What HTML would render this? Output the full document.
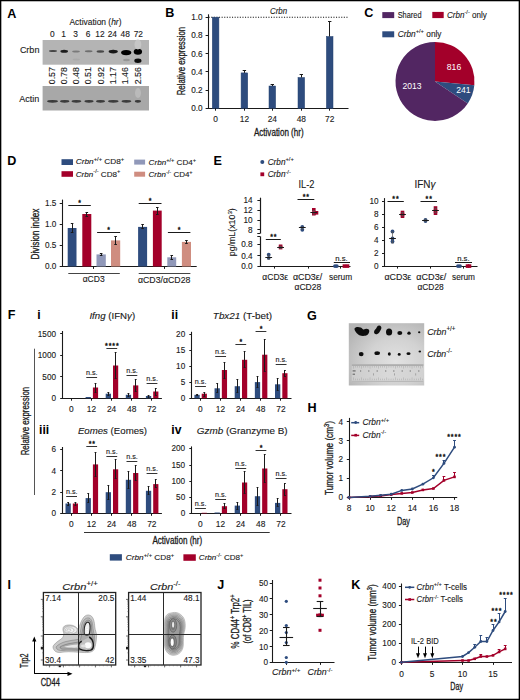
<!DOCTYPE html>
<html><head><meta charset="utf-8"><style>
html,body{margin:0;padding:0;background:#fff;}
#fig{position:relative;width:520px;height:700px;overflow:hidden;background:#fff;}
svg{position:absolute;left:0;top:0;}
text{font-family:"Liberation Sans", sans-serif;}
</style></head><body><div id="fig">
<svg width="520" height="700" viewBox="0 0 520 700" font-family='"Liberation Sans", sans-serif'>
<rect x="0" y="0" width="520" height="700" fill="#fff"/>
<text x="7.30" y="17.60" font-size="12.6" font-weight="bold" fill="#000">A</text>
<text x="95.50" y="25.00" font-size="9.3" text-anchor="middle" fill="#1a1a1a" stroke="#1a1a1a" stroke-width="0.12" textLength="52.00" lengthAdjust="spacingAndGlyphs">Activation (<tspan font-style="italic">hr</tspan>)</text>
<text x="52.30" y="36.60" font-size="8.4" text-anchor="middle" fill="#1a1a1a" stroke="#1a1a1a" stroke-width="0.12">0</text>
<text x="63.50" y="36.60" font-size="8.4" text-anchor="middle" fill="#1a1a1a" stroke="#1a1a1a" stroke-width="0.12">1</text>
<text x="75.50" y="36.60" font-size="8.4" text-anchor="middle" fill="#1a1a1a" stroke="#1a1a1a" stroke-width="0.12">3</text>
<text x="88.00" y="36.60" font-size="8.4" text-anchor="middle" fill="#1a1a1a" stroke="#1a1a1a" stroke-width="0.12">6</text>
<text x="100.00" y="36.60" font-size="8.4" text-anchor="middle" fill="#1a1a1a" stroke="#1a1a1a" stroke-width="0.12">12</text>
<text x="112.30" y="36.60" font-size="8.4" text-anchor="middle" fill="#1a1a1a" stroke="#1a1a1a" stroke-width="0.12">24</text>
<text x="125.20" y="36.60" font-size="8.4" text-anchor="middle" fill="#1a1a1a" stroke="#1a1a1a" stroke-width="0.12">48</text>
<text x="138.30" y="36.60" font-size="8.4" text-anchor="middle" fill="#1a1a1a" stroke="#1a1a1a" stroke-width="0.12">72</text>
<text x="39.40" y="52.90" font-size="9" text-anchor="end" fill="#1a1a1a" stroke="#1a1a1a" stroke-width="0.12">Crbn</text>
<text x="39.20" y="102.00" font-size="9" text-anchor="end" fill="#1a1a1a" stroke="#1a1a1a" stroke-width="0.12">Actin</text>
<defs><filter id="bl" x="-50%" y="-50%" width="200%" height="200%"><feGaussianBlur stdDeviation="0.7"/></filter><filter id="bl2" x="-50%" y="-50%" width="200%" height="200%"><feGaussianBlur stdDeviation="1.2"/></filter></defs>
<rect x="42.60" y="40.00" width="106.40" height="24.70" fill="#b4b4b4"/>
<rect x="42.60" y="86.00" width="106.40" height="24.50" fill="#a8a8a8"/>
<g filter="url(#bl)"><ellipse cx="53" cy="51" rx="4" ry="1.0" fill="#444"/><ellipse cx="64.2" cy="51.2" rx="3.8" ry="1.5" fill="#1e1e1e"/><ellipse cx="76" cy="51.6" rx="3.8" ry="1.0" fill="#7a7a7a"/><ellipse cx="88.7" cy="51.2" rx="3.8" ry="1.0" fill="#6e6e6e"/><ellipse cx="100.4" cy="51.5" rx="3.8" ry="1.2" fill="#4a4a4a"/><ellipse cx="113.2" cy="51.6" rx="4.6" ry="1.8" fill="#151515"/><ellipse cx="126.2" cy="52.6" rx="5.1" ry="2.6" fill="#050505"/><ellipse cx="137.9" cy="51.8" rx="4.2" ry="3.0" fill="#050505"/><ellipse cx="126.5" cy="60" rx="3.4" ry="1.2" fill="#959595"/><ellipse cx="137.9" cy="60.8" rx="3.6" ry="2.2" fill="#111"/><ellipse cx="137.9" cy="44.5" rx="3.4" ry="5" fill="#c6c6c6"/><ellipse cx="76.3" cy="59.5" rx="3.6" ry="1.1" fill="#aaaaaa"/><ellipse cx="52.5" cy="101.3" rx="5.5" ry="1.35" fill="#3a3a3a"/><ellipse cx="64.7" cy="101.3" rx="4.7" ry="1.35" fill="#3a3a3a"/><ellipse cx="76.4" cy="101.3" rx="4.9" ry="1.35" fill="#3a3a3a"/><ellipse cx="89" cy="101.3" rx="4.6" ry="1.35" fill="#3a3a3a"/><ellipse cx="100.5" cy="101.3" rx="4.5" ry="1.35" fill="#3a3a3a"/><ellipse cx="113.3" cy="101.3" rx="5.3" ry="1.35" fill="#3a3a3a"/><ellipse cx="126.4" cy="101.3" rx="4.9" ry="1.35" fill="#3a3a3a"/><ellipse cx="137.9" cy="101.3" rx="3.1" ry="1.35" fill="#3a3a3a"/><ellipse cx="138" cy="93" rx="3" ry="5" fill="#bababa"/></g>
<text x="55.20" y="84.20" font-size="8.2" fill="#1a1a1a" stroke="#1a1a1a" stroke-width="0.12" textLength="17.00" lengthAdjust="spacingAndGlyphs" transform="rotate(-90 55.20 84.20)">0.57</text>
<text x="67.00" y="84.20" font-size="8.2" fill="#1a1a1a" stroke="#1a1a1a" stroke-width="0.12" textLength="17.00" lengthAdjust="spacingAndGlyphs" transform="rotate(-90 67.00 84.20)">0.78</text>
<text x="79.10" y="84.20" font-size="8.2" fill="#1a1a1a" stroke="#1a1a1a" stroke-width="0.12" textLength="17.00" lengthAdjust="spacingAndGlyphs" transform="rotate(-90 79.10 84.20)">0.48</text>
<text x="91.30" y="84.20" font-size="8.2" fill="#1a1a1a" stroke="#1a1a1a" stroke-width="0.12" textLength="17.00" lengthAdjust="spacingAndGlyphs" transform="rotate(-90 91.30 84.20)">0.51</text>
<text x="103.90" y="84.20" font-size="8.2" fill="#1a1a1a" stroke="#1a1a1a" stroke-width="0.12" textLength="17.00" lengthAdjust="spacingAndGlyphs" transform="rotate(-90 103.90 84.20)">0.92</text>
<text x="116.20" y="84.20" font-size="8.2" fill="#1a1a1a" stroke="#1a1a1a" stroke-width="0.12" textLength="17.00" lengthAdjust="spacingAndGlyphs" transform="rotate(-90 116.20 84.20)">1.17</text>
<text x="128.40" y="84.20" font-size="8.2" fill="#1a1a1a" stroke="#1a1a1a" stroke-width="0.12" textLength="17.00" lengthAdjust="spacingAndGlyphs" transform="rotate(-90 128.40 84.20)">1.46</text>
<text x="140.70" y="84.20" font-size="8.2" fill="#1a1a1a" stroke="#1a1a1a" stroke-width="0.12" textLength="17.00" lengthAdjust="spacingAndGlyphs" transform="rotate(-90 140.70 84.20)">2.56</text>
<text x="165.30" y="17.20" font-size="12.6" font-weight="bold" fill="#000">B</text>
<line x1="208.50" y1="14.30" x2="208.50" y2="108.90" stroke="#1a1a1a" stroke-width="1.1"/>
<line x1="205.60" y1="108.50" x2="208.60" y2="108.50" stroke="#1a1a1a" stroke-width="1"/>
<text x="202.60" y="111.30" font-size="8.2" text-anchor="end" fill="#1a1a1a" stroke="#1a1a1a" stroke-width="0.12">0.0</text>
<line x1="205.60" y1="90.50" x2="208.60" y2="90.50" stroke="#1a1a1a" stroke-width="1"/>
<text x="202.60" y="93.06" font-size="8.2" text-anchor="end" fill="#1a1a1a" stroke="#1a1a1a" stroke-width="0.12">0.2</text>
<line x1="205.60" y1="71.50" x2="208.60" y2="71.50" stroke="#1a1a1a" stroke-width="1"/>
<text x="202.60" y="74.82" font-size="8.2" text-anchor="end" fill="#1a1a1a" stroke="#1a1a1a" stroke-width="0.12">0.4</text>
<line x1="205.60" y1="53.50" x2="208.60" y2="53.50" stroke="#1a1a1a" stroke-width="1"/>
<text x="202.60" y="56.58" font-size="8.2" text-anchor="end" fill="#1a1a1a" stroke="#1a1a1a" stroke-width="0.12">0.6</text>
<line x1="205.60" y1="35.50" x2="208.60" y2="35.50" stroke="#1a1a1a" stroke-width="1"/>
<text x="202.60" y="38.34" font-size="8.2" text-anchor="end" fill="#1a1a1a" stroke="#1a1a1a" stroke-width="0.12">0.8</text>
<line x1="205.60" y1="17.50" x2="208.60" y2="17.50" stroke="#1a1a1a" stroke-width="1"/>
<text x="202.60" y="20.10" font-size="8.2" text-anchor="end" fill="#1a1a1a" stroke="#1a1a1a" stroke-width="0.12">1.0</text>
<text x="184.60" y="61.10" font-size="10" text-anchor="middle" fill="#1a1a1a" stroke="#1a1a1a" stroke-width="0.3" textLength="68.50" lengthAdjust="spacingAndGlyphs" transform="rotate(-90 184.60 61.10)">Relative expression</text>
<line x1="208.10" y1="108.50" x2="348.50" y2="108.50" stroke="#1a1a1a" stroke-width="1.1"/>
<line x1="208.6" y1="17.2" x2="348.5" y2="17.2" stroke="#111" stroke-width="1.1" stroke-dasharray="1.1 1.5"/>
<text x="270.00" y="13.50" font-size="8.2" font-style="italic" fill="#1a1a1a" stroke="#1a1a1a" stroke-width="0.12" textLength="17.00" lengthAdjust="spacingAndGlyphs">Crbn</text>
<rect x="212.30" y="17.20" width="6.60" height="91.20" fill="#2e4c7e" stroke="#22406f" stroke-width="0.5"/>
<line x1="215.50" y1="108.40" x2="215.50" y2="110.70" stroke="#1a1a1a" stroke-width="1"/>
<text x="215.60" y="121.50" font-size="8.4" text-anchor="middle" fill="#1a1a1a" stroke="#1a1a1a" stroke-width="0.12">0</text>
<rect x="241.10" y="72.90" width="6.60" height="35.50" fill="#2e4c7e" stroke="#22406f" stroke-width="0.5"/>
<line x1="244.50" y1="70.00" x2="244.50" y2="72.90" stroke="#1a1a1a" stroke-width="1"/>
<line x1="242.70" y1="70.50" x2="246.10" y2="70.50" stroke="#1a1a1a" stroke-width="1"/>
<line x1="244.50" y1="108.40" x2="244.50" y2="110.70" stroke="#1a1a1a" stroke-width="1"/>
<text x="244.40" y="121.50" font-size="8.4" text-anchor="middle" fill="#1a1a1a" stroke="#1a1a1a" stroke-width="0.12">12</text>
<rect x="269.00" y="86.00" width="6.60" height="22.40" fill="#2e4c7e" stroke="#22406f" stroke-width="0.5"/>
<line x1="272.50" y1="84.80" x2="272.50" y2="86.00" stroke="#1a1a1a" stroke-width="1"/>
<line x1="270.60" y1="84.50" x2="274.00" y2="84.50" stroke="#1a1a1a" stroke-width="1"/>
<line x1="272.50" y1="108.40" x2="272.50" y2="110.70" stroke="#1a1a1a" stroke-width="1"/>
<text x="272.30" y="121.50" font-size="8.4" text-anchor="middle" fill="#1a1a1a" stroke="#1a1a1a" stroke-width="0.12">24</text>
<rect x="298.00" y="77.50" width="6.60" height="30.90" fill="#2e4c7e" stroke="#22406f" stroke-width="0.5"/>
<line x1="301.50" y1="74.90" x2="301.50" y2="77.50" stroke="#1a1a1a" stroke-width="1"/>
<line x1="299.60" y1="74.50" x2="303.00" y2="74.50" stroke="#1a1a1a" stroke-width="1"/>
<line x1="301.50" y1="108.40" x2="301.50" y2="110.70" stroke="#1a1a1a" stroke-width="1"/>
<text x="301.30" y="121.50" font-size="8.4" text-anchor="middle" fill="#1a1a1a" stroke="#1a1a1a" stroke-width="0.12">48</text>
<rect x="326.40" y="36.50" width="6.60" height="71.90" fill="#2e4c7e" stroke="#22406f" stroke-width="0.5"/>
<line x1="329.50" y1="21.90" x2="329.50" y2="36.50" stroke="#1a1a1a" stroke-width="1"/>
<line x1="328.00" y1="21.50" x2="331.40" y2="21.50" stroke="#1a1a1a" stroke-width="1"/>
<line x1="329.50" y1="108.40" x2="329.50" y2="110.70" stroke="#1a1a1a" stroke-width="1"/>
<text x="329.70" y="121.50" font-size="8.4" text-anchor="middle" fill="#1a1a1a" stroke="#1a1a1a" stroke-width="0.12">72</text>
<text x="278.80" y="135.50" font-size="10" text-anchor="middle" fill="#1a1a1a" stroke="#1a1a1a" stroke-width="0.3" textLength="49.70" lengthAdjust="spacingAndGlyphs">Activation (hr)</text>
<text x="364.20" y="17.40" font-size="12.6" font-weight="bold" fill="#000">C</text>
<rect x="382.30" y="12.10" width="11.90" height="6.00" fill="#522662"/>
<rect x="432.30" y="11.90" width="11.40" height="6.20" fill="#a3002a"/>
<rect x="382.30" y="31.30" width="11.90" height="6.00" fill="#2e4c7e"/>
<text x="397.70" y="17.60" font-size="8.8" fill="#1a1a1a" stroke="#1a1a1a" stroke-width="0.12" textLength="23.80" lengthAdjust="spacingAndGlyphs">Shared</text>
<text x="447.00" y="17.60" font-size="8.8" fill="#1a1a1a" stroke="#1a1a1a" stroke-width="0.12" textLength="39.80" lengthAdjust="spacingAndGlyphs"><tspan font-style="italic">Crbn</tspan><tspan font-size="6.16" dy="-3.70">-/-</tspan><tspan dy="3.70"> only</tspan></text>
<text x="397.70" y="36.60" font-size="8.8" fill="#1a1a1a" stroke="#1a1a1a" stroke-width="0.12" textLength="43.80" lengthAdjust="spacingAndGlyphs"><tspan font-style="italic">Crbn</tspan><tspan font-size="6.16" dy="-3.70">+/+</tspan><tspan dy="3.70"> only</tspan></text>
<path d="M435,81.4 L435.00,41.90 A39.5,39.5 0 0 1 474.31,85.31 Z" fill="#a3002a"/>
<path d="M435,81.4 L474.31,85.31 A39.5,39.5 0 0 1 467.77,103.46 Z" fill="#2e4c7e"/>
<path d="M435,81.4 L467.77,103.46 A39.5,39.5 0 1 1 435.00,41.90 Z" fill="#522662"/>
<text x="454.00" y="70.20" font-size="8.6" text-anchor="middle" fill="#fff">816</text>
<text x="463.30" y="93.10" font-size="8.6" text-anchor="middle" fill="#fff">241</text>
<text x="412.10" y="89.10" font-size="8.6" text-anchor="middle" fill="#fff">2013</text>
<text x="7.20" y="164.60" font-size="12.6" font-weight="bold" fill="#000">D</text>
<rect x="61.50" y="159.20" width="11.50" height="5.80" fill="#2e4c7e"/>
<rect x="61.50" y="171.20" width="11.50" height="5.60" fill="#a3002a"/>
<rect x="134.20" y="159.60" width="10.90" height="5.00" fill="#9098b9"/>
<rect x="134.20" y="171.70" width="10.90" height="5.00" fill="#cf8d80"/>
<text x="75.80" y="164.20" font-size="7.6" fill="#1a1a1a" stroke="#1a1a1a" stroke-width="0.12" textLength="48.50" lengthAdjust="spacingAndGlyphs"><tspan font-style="italic">Crbn</tspan><tspan font-size="5.32" dy="-3.19">+/+</tspan><tspan dy="3.19"> CD8</tspan><tspan font-size="5.4" dy="-3.2">+</tspan><tspan dy="3.2"></tspan></text>
<text x="75.80" y="176.50" font-size="7.6" fill="#1a1a1a" stroke="#1a1a1a" stroke-width="0.12" textLength="44.50" lengthAdjust="spacingAndGlyphs"><tspan font-style="italic">Crbn</tspan><tspan font-size="5.32" dy="-3.19">-/-</tspan><tspan dy="3.19"> CD8</tspan><tspan font-size="5.4" dy="-3.2">+</tspan><tspan dy="3.2"></tspan></text>
<text x="148.60" y="164.70" font-size="7.6" fill="#1a1a1a" stroke="#1a1a1a" stroke-width="0.12" textLength="47.60" lengthAdjust="spacingAndGlyphs"><tspan font-style="italic">Crbn</tspan><tspan font-size="5.32" dy="-3.19">+/+</tspan><tspan dy="3.19"> CD4</tspan><tspan font-size="5.4" dy="-3.2">+</tspan><tspan dy="3.2"></tspan></text>
<text x="148.60" y="176.80" font-size="7.6" fill="#1a1a1a" stroke="#1a1a1a" stroke-width="0.12" textLength="44.10" lengthAdjust="spacingAndGlyphs"><tspan font-style="italic">Crbn</tspan><tspan font-size="5.32" dy="-3.19">-/-</tspan><tspan dy="3.19"> CD4</tspan><tspan font-size="5.4" dy="-3.2">+</tspan><tspan dy="3.2"></tspan></text>
<line x1="62.50" y1="199.60" x2="62.50" y2="267.00" stroke="#1a1a1a" stroke-width="1.1"/>
<line x1="59.70" y1="266.50" x2="62.50" y2="266.50" stroke="#1a1a1a" stroke-width="1"/>
<text x="56.40" y="269.40" font-size="8.2" text-anchor="end" fill="#1a1a1a" stroke="#1a1a1a" stroke-width="0.12">0.0</text>
<line x1="59.70" y1="245.50" x2="62.50" y2="245.50" stroke="#1a1a1a" stroke-width="1"/>
<text x="56.40" y="248.27" font-size="8.2" text-anchor="end" fill="#1a1a1a" stroke="#1a1a1a" stroke-width="0.12">0.5</text>
<line x1="59.70" y1="224.50" x2="62.50" y2="224.50" stroke="#1a1a1a" stroke-width="1"/>
<text x="56.40" y="227.14" font-size="8.2" text-anchor="end" fill="#1a1a1a" stroke="#1a1a1a" stroke-width="0.12">1.0</text>
<line x1="59.70" y1="203.50" x2="62.50" y2="203.50" stroke="#1a1a1a" stroke-width="1"/>
<text x="56.40" y="206.01" font-size="8.2" text-anchor="end" fill="#1a1a1a" stroke="#1a1a1a" stroke-width="0.12">1.5</text>
<text x="38.80" y="234.00" font-size="10" text-anchor="middle" fill="#1a1a1a" stroke="#1a1a1a" stroke-width="0.3" textLength="51.00" lengthAdjust="spacingAndGlyphs" transform="rotate(-90 38.80 234.00)">Division index</text>
<line x1="62.00" y1="266.50" x2="196.70" y2="266.50" stroke="#1a1a1a" stroke-width="1.1"/>
<rect x="67.70" y="228.00" width="8.80" height="38.50" fill="#2e4c7e"/>
<line x1="72.50" y1="223.00" x2="72.50" y2="232.70" stroke="#1a1a1a" stroke-width="1.0"/>
<line x1="70.80" y1="223.50" x2="73.40" y2="223.50" stroke="#1a1a1a" stroke-width="1.0"/>
<line x1="70.80" y1="232.50" x2="73.40" y2="232.50" stroke="#1a1a1a" stroke-width="1.0"/>
<rect x="82.30" y="214.00" width="9.00" height="52.50" fill="#a3002a"/>
<line x1="86.50" y1="212.50" x2="86.50" y2="216.00" stroke="#1a1a1a" stroke-width="1.0"/>
<line x1="85.50" y1="212.50" x2="88.10" y2="212.50" stroke="#1a1a1a" stroke-width="1.0"/>
<line x1="85.50" y1="216.50" x2="88.10" y2="216.50" stroke="#1a1a1a" stroke-width="1.0"/>
<rect x="96.50" y="254.40" width="9.30" height="12.10" fill="#9098b9"/>
<line x1="101.50" y1="253.30" x2="101.50" y2="255.80" stroke="#1a1a1a" stroke-width="1.0"/>
<line x1="99.85" y1="253.50" x2="102.45" y2="253.50" stroke="#1a1a1a" stroke-width="1.0"/>
<line x1="99.85" y1="255.50" x2="102.45" y2="255.50" stroke="#1a1a1a" stroke-width="1.0"/>
<rect x="111.00" y="240.40" width="9.20" height="26.10" fill="#cf8d80"/>
<line x1="115.50" y1="236.00" x2="115.50" y2="244.20" stroke="#1a1a1a" stroke-width="1.0"/>
<line x1="114.30" y1="236.50" x2="116.90" y2="236.50" stroke="#1a1a1a" stroke-width="1.0"/>
<line x1="114.30" y1="244.50" x2="116.90" y2="244.50" stroke="#1a1a1a" stroke-width="1.0"/>
<rect x="138.10" y="226.90" width="9.00" height="39.60" fill="#2e4c7e"/>
<line x1="142.50" y1="224.60" x2="142.50" y2="228.80" stroke="#1a1a1a" stroke-width="1.0"/>
<line x1="141.30" y1="224.50" x2="143.90" y2="224.50" stroke="#1a1a1a" stroke-width="1.0"/>
<line x1="141.30" y1="228.50" x2="143.90" y2="228.50" stroke="#1a1a1a" stroke-width="1.0"/>
<rect x="152.90" y="210.60" width="8.80" height="55.90" fill="#a3002a"/>
<line x1="157.50" y1="207.30" x2="157.50" y2="214.00" stroke="#1a1a1a" stroke-width="1.0"/>
<line x1="156.00" y1="207.50" x2="158.60" y2="207.50" stroke="#1a1a1a" stroke-width="1.0"/>
<line x1="156.00" y1="214.50" x2="158.60" y2="214.50" stroke="#1a1a1a" stroke-width="1.0"/>
<rect x="167.30" y="257.30" width="8.90" height="9.20" fill="#9098b9"/>
<line x1="171.50" y1="255.40" x2="171.50" y2="259.20" stroke="#1a1a1a" stroke-width="1.0"/>
<line x1="170.45" y1="255.50" x2="173.05" y2="255.50" stroke="#1a1a1a" stroke-width="1.0"/>
<line x1="170.45" y1="259.50" x2="173.05" y2="259.50" stroke="#1a1a1a" stroke-width="1.0"/>
<rect x="181.90" y="241.90" width="9.10" height="24.60" fill="#cf8d80"/>
<line x1="186.50" y1="240.40" x2="186.50" y2="243.50" stroke="#1a1a1a" stroke-width="1.0"/>
<line x1="185.15" y1="240.50" x2="187.75" y2="240.50" stroke="#1a1a1a" stroke-width="1.0"/>
<line x1="185.15" y1="243.50" x2="187.75" y2="243.50" stroke="#1a1a1a" stroke-width="1.0"/>
<line x1="68.30" y1="205.50" x2="90.80" y2="205.50" stroke="#1a1a1a" stroke-width="1.0"/>
<text x="79.95" y="204.60" font-size="7" text-anchor="middle" fill="#1a1a1a" stroke="#1a1a1a" stroke-width="0.4" letter-spacing="0.9">*</text>
<line x1="97.10" y1="232.50" x2="120.20" y2="232.50" stroke="#1a1a1a" stroke-width="1.0"/>
<text x="109.05" y="231.60" font-size="7" text-anchor="middle" fill="#1a1a1a" stroke="#1a1a1a" stroke-width="0.4" letter-spacing="0.9">*</text>
<line x1="138.70" y1="203.50" x2="161.50" y2="203.50" stroke="#1a1a1a" stroke-width="1.0"/>
<text x="150.55" y="203.40" font-size="7" text-anchor="middle" fill="#1a1a1a" stroke="#1a1a1a" stroke-width="0.4" letter-spacing="0.9">*</text>
<line x1="167.90" y1="232.50" x2="190.40" y2="232.50" stroke="#1a1a1a" stroke-width="1.0"/>
<text x="179.55" y="232.30" font-size="7" text-anchor="middle" fill="#1a1a1a" stroke="#1a1a1a" stroke-width="0.4" letter-spacing="0.9">*</text>
<line x1="93.50" y1="266.50" x2="93.50" y2="268.90" stroke="#1a1a1a" stroke-width="1"/>
<line x1="164.50" y1="266.50" x2="164.50" y2="268.90" stroke="#1a1a1a" stroke-width="1"/>
<line x1="68.30" y1="273.50" x2="119.80" y2="273.50" stroke="#444" stroke-width="1.0"/>
<line x1="138.70" y1="273.50" x2="190.40" y2="273.50" stroke="#444" stroke-width="1.0"/>
<text x="93.70" y="282.40" font-size="8.2" text-anchor="middle" fill="#1a1a1a" stroke="#1a1a1a" stroke-width="0.12" textLength="22.00" lengthAdjust="spacingAndGlyphs">αCD3</text>
<text x="164.20" y="283.20" font-size="8.2" text-anchor="middle" fill="#1a1a1a" stroke="#1a1a1a" stroke-width="0.12" textLength="52.40" lengthAdjust="spacingAndGlyphs">αCD3/αCD28</text>
<text x="213.40" y="165.00" font-size="12.6" font-weight="bold" fill="#000">E</text>
<circle cx="262.3" cy="162" r="2" fill="#2e4c7e"/>
<rect x="260.40" y="172.40" width="3.80" height="3.80" fill="#a3002a"/>
<text x="267.70" y="164.70" font-size="8.2" fill="#1a1a1a" stroke="#1a1a1a" stroke-width="0.12"><tspan font-style="italic">Crbn</tspan><tspan font-size="5.74" dy="-3.44">+/+</tspan><tspan dy="3.44"></tspan></text>
<text x="267.70" y="177.00" font-size="8.2" fill="#1a1a1a" stroke="#1a1a1a" stroke-width="0.12"><tspan font-style="italic">Crbn</tspan><tspan font-size="5.74" dy="-3.44">-/-</tspan><tspan dy="3.44"></tspan></text>
<text x="306.50" y="187.70" font-size="11" text-anchor="middle" fill="#1a1a1a" stroke="#1a1a1a" stroke-width="0.12" textLength="16.00" lengthAdjust="spacingAndGlyphs">IL-2</text>
<line x1="260.50" y1="197.70" x2="260.50" y2="233.60" stroke="#1a1a1a" stroke-width="1.2"/>
<line x1="257.30" y1="233.50" x2="260.00" y2="233.50" stroke="#1a1a1a" stroke-width="1"/>
<line x1="257.40" y1="200.50" x2="260.00" y2="200.50" stroke="#1a1a1a" stroke-width="1"/>
<text x="252.60" y="202.90" font-size="8.2" text-anchor="end" fill="#1a1a1a" stroke="#1a1a1a" stroke-width="0.12">14</text>
<line x1="257.40" y1="210.50" x2="260.00" y2="210.50" stroke="#1a1a1a" stroke-width="1"/>
<text x="252.60" y="212.90" font-size="8.2" text-anchor="end" fill="#1a1a1a" stroke="#1a1a1a" stroke-width="0.12">12</text>
<line x1="257.40" y1="220.50" x2="260.00" y2="220.50" stroke="#1a1a1a" stroke-width="1"/>
<text x="252.60" y="222.90" font-size="8.2" text-anchor="end" fill="#1a1a1a" stroke="#1a1a1a" stroke-width="0.12">10</text>
<line x1="257.40" y1="229.50" x2="260.00" y2="229.50" stroke="#1a1a1a" stroke-width="1"/>
<text x="252.60" y="232.80" font-size="8.2" text-anchor="end" fill="#1a1a1a" stroke="#1a1a1a" stroke-width="0.12">8</text>
<line x1="260.50" y1="236.30" x2="260.50" y2="266.80" stroke="#1a1a1a" stroke-width="1.2"/>
<line x1="257.30" y1="236.50" x2="260.00" y2="236.50" stroke="#1a1a1a" stroke-width="1"/>
<line x1="257.40" y1="244.50" x2="260.00" y2="244.50" stroke="#1a1a1a" stroke-width="1"/>
<text x="252.60" y="247.20" font-size="8.2" text-anchor="end" fill="#1a1a1a" stroke="#1a1a1a" stroke-width="0.12">0.8</text>
<line x1="257.40" y1="255.50" x2="260.00" y2="255.50" stroke="#1a1a1a" stroke-width="1"/>
<text x="252.60" y="258.50" font-size="8.2" text-anchor="end" fill="#1a1a1a" stroke="#1a1a1a" stroke-width="0.12">0.4</text>
<line x1="257.40" y1="266.50" x2="260.00" y2="266.50" stroke="#1a1a1a" stroke-width="1"/>
<text x="252.60" y="269.20" font-size="8.2" text-anchor="end" fill="#1a1a1a" stroke="#1a1a1a" stroke-width="0.12">0.0</text>
<text x="235.20" y="232.20" font-size="8.2" text-anchor="middle" fill="#1a1a1a" stroke="#1a1a1a" stroke-width="0.12" textLength="48.00" lengthAdjust="spacingAndGlyphs" transform="rotate(-90 235.20 232.20)">pg/mL(x10<tspan font-size="5.8" dy="-3.4">3</tspan><tspan dy="3.4">)</tspan></text>
<line x1="259.50" y1="266.50" x2="350.50" y2="266.50" stroke="#1a1a1a" stroke-width="1.1"/>
<line x1="274.50" y1="266.30" x2="274.50" y2="268.60" stroke="#1a1a1a" stroke-width="1"/>
<line x1="308.50" y1="266.30" x2="308.50" y2="268.60" stroke="#1a1a1a" stroke-width="1"/>
<line x1="340.50" y1="266.30" x2="340.50" y2="268.60" stroke="#1a1a1a" stroke-width="1"/>
<text x="275.20" y="280.00" font-size="8.2" text-anchor="middle" fill="#1a1a1a" stroke="#1a1a1a" stroke-width="0.12" textLength="25.70" lengthAdjust="spacingAndGlyphs">αCD3ε</text>
<text x="307.60" y="280.00" font-size="8.2" text-anchor="middle" fill="#1a1a1a" stroke="#1a1a1a" stroke-width="0.12" textLength="29.30" lengthAdjust="spacingAndGlyphs">αCD3ε/</text>
<text x="307.90" y="290.20" font-size="8.2" text-anchor="middle" fill="#1a1a1a" stroke="#1a1a1a" stroke-width="0.12" textLength="26.90" lengthAdjust="spacingAndGlyphs">αCD28</text>
<text x="340.60" y="280.00" font-size="8.2" text-anchor="middle" fill="#1a1a1a" stroke="#1a1a1a" stroke-width="0.12" textLength="23.10" lengthAdjust="spacingAndGlyphs">serum</text>
<text x="425.00" y="187.70" font-size="11" text-anchor="middle" fill="#1a1a1a" stroke="#1a1a1a" stroke-width="0.12" textLength="21.00" lengthAdjust="spacingAndGlyphs">IFN<tspan font-style="italic">γ</tspan></text>
<line x1="384.50" y1="198.10" x2="384.50" y2="266.80" stroke="#1a1a1a" stroke-width="1.1"/>
<line x1="382.00" y1="266.50" x2="384.60" y2="266.50" stroke="#1a1a1a" stroke-width="1"/>
<text x="378.60" y="269.20" font-size="8.2" text-anchor="end" fill="#1a1a1a" stroke="#1a1a1a" stroke-width="0.12">0</text>
<line x1="382.00" y1="253.50" x2="384.60" y2="253.50" stroke="#1a1a1a" stroke-width="1"/>
<text x="378.60" y="256.20" font-size="8.2" text-anchor="end" fill="#1a1a1a" stroke="#1a1a1a" stroke-width="0.12">2</text>
<line x1="382.00" y1="240.50" x2="384.60" y2="240.50" stroke="#1a1a1a" stroke-width="1"/>
<text x="378.60" y="243.20" font-size="8.2" text-anchor="end" fill="#1a1a1a" stroke="#1a1a1a" stroke-width="0.12">4</text>
<line x1="382.00" y1="227.50" x2="384.60" y2="227.50" stroke="#1a1a1a" stroke-width="1"/>
<text x="378.60" y="230.20" font-size="8.2" text-anchor="end" fill="#1a1a1a" stroke="#1a1a1a" stroke-width="0.12">6</text>
<line x1="382.00" y1="214.50" x2="384.60" y2="214.50" stroke="#1a1a1a" stroke-width="1"/>
<text x="378.60" y="217.20" font-size="8.2" text-anchor="end" fill="#1a1a1a" stroke="#1a1a1a" stroke-width="0.12">8</text>
<line x1="382.00" y1="201.50" x2="384.60" y2="201.50" stroke="#1a1a1a" stroke-width="1"/>
<text x="378.60" y="204.20" font-size="8.2" text-anchor="end" fill="#1a1a1a" stroke="#1a1a1a" stroke-width="0.12">10</text>
<line x1="384.10" y1="266.50" x2="477.50" y2="266.50" stroke="#1a1a1a" stroke-width="1.1"/>
<line x1="397.50" y1="266.30" x2="397.50" y2="268.60" stroke="#1a1a1a" stroke-width="1"/>
<line x1="430.50" y1="266.30" x2="430.50" y2="268.60" stroke="#1a1a1a" stroke-width="1"/>
<line x1="463.50" y1="266.30" x2="463.50" y2="268.60" stroke="#1a1a1a" stroke-width="1"/>
<text x="397.90" y="280.00" font-size="8.2" text-anchor="middle" fill="#1a1a1a" stroke="#1a1a1a" stroke-width="0.12" textLength="26.80" lengthAdjust="spacingAndGlyphs">αCD3ε</text>
<text x="431.30" y="280.00" font-size="8.2" text-anchor="middle" fill="#1a1a1a" stroke="#1a1a1a" stroke-width="0.12" textLength="30.00" lengthAdjust="spacingAndGlyphs">αCD3ε/</text>
<text x="430.60" y="290.20" font-size="8.2" text-anchor="middle" fill="#1a1a1a" stroke="#1a1a1a" stroke-width="0.12" textLength="26.30" lengthAdjust="spacingAndGlyphs">αCD28</text>
<text x="463.50" y="280.00" font-size="8.2" text-anchor="middle" fill="#1a1a1a" stroke="#1a1a1a" stroke-width="0.12" textLength="23.00" lengthAdjust="spacingAndGlyphs">serum</text>
<circle cx="268.70" cy="254.60" r="1.9" fill="#2e4c7e"/>
<circle cx="268.70" cy="257.80" r="1.9" fill="#2e4c7e"/>
<line x1="268.70" y1="255.20" x2="268.70" y2="259.20" stroke="#555" stroke-width="0.7"/>
<line x1="267.30" y1="255.20" x2="270.10" y2="255.20" stroke="#555" stroke-width="0.7"/>
<line x1="267.30" y1="259.20" x2="270.10" y2="259.20" stroke="#555" stroke-width="0.7"/>
<line x1="265.30" y1="257.50" x2="272.10" y2="257.50" stroke="#1a1a1a" stroke-width="1.0"/>
<rect x="278.80" y="244.50" width="3.6" height="3.6" fill="#a3002a"/>
<rect x="278.80" y="245.80" width="3.6" height="3.6" fill="#a3002a"/>
<line x1="280.60" y1="246.20" x2="280.60" y2="248.40" stroke="#555" stroke-width="0.7"/>
<line x1="279.20" y1="246.20" x2="282.00" y2="246.20" stroke="#555" stroke-width="0.7"/>
<line x1="279.20" y1="248.40" x2="282.00" y2="248.40" stroke="#555" stroke-width="0.7"/>
<line x1="277.20" y1="247.50" x2="284.00" y2="247.50" stroke="#1a1a1a" stroke-width="1.0"/>
<line x1="265.80" y1="239.50" x2="280.80" y2="239.50" stroke="#1a1a1a" stroke-width="1.0"/>
<text x="273.75" y="239.20" font-size="7" text-anchor="middle" fill="#1a1a1a" stroke="#1a1a1a" stroke-width="0.4" letter-spacing="0.9">**</text>
<circle cx="302.30" cy="227.00" r="1.9" fill="#2e4c7e"/>
<circle cx="302.30" cy="229.80" r="1.9" fill="#2e4c7e"/>
<line x1="302.30" y1="227.00" x2="302.30" y2="229.20" stroke="#555" stroke-width="0.7"/>
<line x1="300.90" y1="227.00" x2="303.70" y2="227.00" stroke="#555" stroke-width="0.7"/>
<line x1="300.90" y1="229.20" x2="303.70" y2="229.20" stroke="#555" stroke-width="0.7"/>
<line x1="298.90" y1="227.50" x2="305.70" y2="227.50" stroke="#1a1a1a" stroke-width="1.0"/>
<rect x="312.00" y="208.00" width="3.6" height="3.6" fill="#a3002a"/>
<rect x="312.00" y="211.80" width="3.6" height="3.6" fill="#a3002a"/>
<rect x="312.00" y="211.60" width="3.6" height="3.6" fill="#a3002a"/>
<rect x="314.70" y="211.00" width="3.6" height="3.6" fill="#a3002a"/>
<line x1="313.80" y1="210.60" x2="313.80" y2="214.20" stroke="#555" stroke-width="0.7"/>
<line x1="312.40" y1="210.60" x2="315.20" y2="210.60" stroke="#555" stroke-width="0.7"/>
<line x1="312.40" y1="214.20" x2="315.20" y2="214.20" stroke="#555" stroke-width="0.7"/>
<line x1="310.40" y1="212.50" x2="317.20" y2="212.50" stroke="#1a1a1a" stroke-width="1.0"/>
<line x1="297.50" y1="199.50" x2="314.30" y2="199.50" stroke="#1a1a1a" stroke-width="1.0"/>
<text x="306.35" y="199.30" font-size="7" text-anchor="middle" fill="#1a1a1a" stroke="#1a1a1a" stroke-width="0.4" letter-spacing="0.9">**</text>
<circle cx="335.00" cy="266.10" r="1.9" fill="#2e4c7e"/>
<circle cx="336.80" cy="266.10" r="1.9" fill="#2e4c7e"/>
<rect x="342.60" y="264.30" width="3.6" height="3.6" fill="#a3002a"/>
<rect x="345.70" y="264.30" width="3.6" height="3.6" fill="#a3002a"/>
<line x1="333.80" y1="262.50" x2="350.00" y2="262.50" stroke="#1a1a1a" stroke-width="1.0"/>
<text x="341.50" y="260.60" font-size="6.8" text-anchor="middle" fill="#1a1a1a" stroke="#1a1a1a" stroke-width="0.12" textLength="12.50" lengthAdjust="spacingAndGlyphs">n.s.</text>
<circle cx="392.50" cy="231.50" r="1.9" fill="#2e4c7e"/>
<circle cx="392.50" cy="238.50" r="1.9" fill="#2e4c7e"/>
<circle cx="392.50" cy="241.50" r="1.9" fill="#2e4c7e"/>
<line x1="392.50" y1="232.00" x2="392.50" y2="243.00" stroke="#555" stroke-width="0.7"/>
<line x1="391.10" y1="232.00" x2="393.90" y2="232.00" stroke="#555" stroke-width="0.7"/>
<line x1="391.10" y1="243.00" x2="393.90" y2="243.00" stroke="#555" stroke-width="0.7"/>
<line x1="389.10" y1="238.50" x2="395.90" y2="238.50" stroke="#1a1a1a" stroke-width="1.0"/>
<rect x="400.70" y="210.70" width="3.6" height="3.6" fill="#a3002a"/>
<rect x="400.70" y="212.80" width="3.6" height="3.6" fill="#a3002a"/>
<rect x="400.70" y="214.40" width="3.6" height="3.6" fill="#a3002a"/>
<line x1="402.50" y1="212.50" x2="402.50" y2="216.00" stroke="#555" stroke-width="0.7"/>
<line x1="401.10" y1="212.50" x2="403.90" y2="212.50" stroke="#555" stroke-width="0.7"/>
<line x1="401.10" y1="216.00" x2="403.90" y2="216.00" stroke="#555" stroke-width="0.7"/>
<line x1="399.10" y1="214.50" x2="405.90" y2="214.50" stroke="#1a1a1a" stroke-width="1.0"/>
<line x1="387.50" y1="201.50" x2="403.80" y2="201.50" stroke="#1a1a1a" stroke-width="1.0"/>
<text x="395.95" y="200.90" font-size="7" text-anchor="middle" fill="#1a1a1a" stroke="#1a1a1a" stroke-width="0.4" letter-spacing="0.9">**</text>
<circle cx="425.50" cy="219.80" r="1.9" fill="#2e4c7e"/>
<circle cx="425.50" cy="221.00" r="1.9" fill="#2e4c7e"/>
<line x1="425.50" y1="219.30" x2="425.50" y2="221.30" stroke="#555" stroke-width="0.7"/>
<line x1="424.10" y1="219.30" x2="426.90" y2="219.30" stroke="#555" stroke-width="0.7"/>
<line x1="424.10" y1="221.30" x2="426.90" y2="221.30" stroke="#555" stroke-width="0.7"/>
<line x1="422.10" y1="220.50" x2="428.90" y2="220.50" stroke="#1a1a1a" stroke-width="1.0"/>
<rect x="433.70" y="206.20" width="3.6" height="3.6" fill="#a3002a"/>
<rect x="433.70" y="209.20" width="3.6" height="3.6" fill="#a3002a"/>
<rect x="433.70" y="211.40" width="3.6" height="3.6" fill="#a3002a"/>
<line x1="435.50" y1="208.30" x2="435.50" y2="212.80" stroke="#555" stroke-width="0.7"/>
<line x1="434.10" y1="208.30" x2="436.90" y2="208.30" stroke="#555" stroke-width="0.7"/>
<line x1="434.10" y1="212.80" x2="436.90" y2="212.80" stroke="#555" stroke-width="0.7"/>
<line x1="432.10" y1="210.50" x2="438.90" y2="210.50" stroke="#1a1a1a" stroke-width="1.0"/>
<line x1="420.50" y1="201.50" x2="437.00" y2="201.50" stroke="#1a1a1a" stroke-width="1.0"/>
<text x="429.15" y="200.90" font-size="7" text-anchor="middle" fill="#1a1a1a" stroke="#1a1a1a" stroke-width="0.4" letter-spacing="0.9">**</text>
<circle cx="458.00" cy="266.10" r="1.9" fill="#2e4c7e"/>
<circle cx="460.00" cy="266.10" r="1.9" fill="#2e4c7e"/>
<rect x="465.70" y="264.30" width="3.6" height="3.6" fill="#a3002a"/>
<rect x="467.70" y="264.30" width="3.6" height="3.6" fill="#a3002a"/>
<line x1="455.00" y1="262.50" x2="472.00" y2="262.50" stroke="#1a1a1a" stroke-width="1.0"/>
<text x="463.40" y="260.60" font-size="6.8" text-anchor="middle" fill="#1a1a1a" stroke="#1a1a1a" stroke-width="0.12" textLength="12.50" lengthAdjust="spacingAndGlyphs">n.s.</text>
<text x="7.80" y="319.30" font-size="12.6" font-weight="bold" fill="#000">F</text>
<text x="37.30" y="319.30" font-size="12.2" font-weight="bold" fill="#000">i</text>
<text x="171.30" y="319.40" font-size="12.2" font-weight="bold" fill="#000">ii</text>
<text x="39.00" y="433.70" font-size="12.2" font-weight="bold" fill="#000">iii</text>
<text x="171.30" y="434.10" font-size="12.2" font-weight="bold" fill="#000">iv</text>
<text x="112.30" y="318.80" font-size="9" text-anchor="middle" fill="#1a1a1a" stroke="#1a1a1a" stroke-width="0.12" textLength="45.70" lengthAdjust="spacingAndGlyphs"><tspan font-style="italic">Ifng</tspan> (IFN<tspan font-style="italic">γ</tspan>)</text>
<text x="242.50" y="319.00" font-size="9" text-anchor="middle" fill="#1a1a1a" stroke="#1a1a1a" stroke-width="0.12" textLength="59.30" lengthAdjust="spacingAndGlyphs"><tspan font-style="italic">Tbx21</tspan> (T-bet)</text>
<text x="112.50" y="433.70" font-size="9" text-anchor="middle" fill="#1a1a1a" stroke="#1a1a1a" stroke-width="0.12" textLength="69.20" lengthAdjust="spacingAndGlyphs"><tspan font-style="italic">Eomes</tspan> (Eomes)</text>
<text x="242.20" y="433.80" font-size="9" text-anchor="middle" fill="#1a1a1a" stroke="#1a1a1a" stroke-width="0.12" textLength="90.70" lengthAdjust="spacingAndGlyphs"><tspan font-style="italic">Gzmb</tspan> (Granzyme B)</text>
<line x1="62.50" y1="331.00" x2="62.50" y2="398.80" stroke="#1a1a1a" stroke-width="1.1"/>
<line x1="60.20" y1="398.50" x2="62.80" y2="398.50" stroke="#1a1a1a" stroke-width="1"/>
<text x="56.00" y="401.20" font-size="8.2" text-anchor="end" fill="#1a1a1a" stroke="#1a1a1a" stroke-width="0.12">0</text>
<line x1="60.20" y1="376.50" x2="62.80" y2="376.50" stroke="#1a1a1a" stroke-width="1"/>
<text x="56.00" y="379.70" font-size="8.2" text-anchor="end" fill="#1a1a1a" stroke="#1a1a1a" stroke-width="0.12">500</text>
<line x1="60.20" y1="355.50" x2="62.80" y2="355.50" stroke="#1a1a1a" stroke-width="1"/>
<text x="56.00" y="358.10" font-size="8.2" text-anchor="end" fill="#1a1a1a" stroke="#1a1a1a" stroke-width="0.12">1000</text>
<line x1="60.20" y1="333.50" x2="62.80" y2="333.50" stroke="#1a1a1a" stroke-width="1"/>
<text x="56.00" y="336.60" font-size="8.2" text-anchor="end" fill="#1a1a1a" stroke="#1a1a1a" stroke-width="0.12">1500</text>
<line x1="62.30" y1="398.50" x2="161.90" y2="398.50" stroke="#1a1a1a" stroke-width="1.1"/>
<line x1="71.50" y1="398.30" x2="71.50" y2="400.70" stroke="#1a1a1a" stroke-width="1"/>
<text x="71.40" y="411.60" font-size="8.4" text-anchor="middle" fill="#1a1a1a" stroke="#1a1a1a" stroke-width="0.12">0</text>
<line x1="66.20" y1="0.50" x2="77.00" y2="0.50" stroke="#333" stroke-width="1"/>
<text x="72.15" y="-0.40" font-size="7" text-anchor="middle" fill="#1a1a1a" stroke="#1a1a1a" stroke-width="0.4" letter-spacing="0.9"></text>
<line x1="91.50" y1="398.30" x2="91.50" y2="400.70" stroke="#1a1a1a" stroke-width="1"/>
<text x="91.50" y="411.60" font-size="8.4" text-anchor="middle" fill="#1a1a1a" stroke="#1a1a1a" stroke-width="0.12">12</text>
<rect x="85.60" y="397.00" width="5.30" height="1.30" fill="#2e4c7e"/>
<rect x="92.90" y="387.50" width="5.20" height="10.80" fill="#a3002a"/>
<line x1="95.50" y1="383.50" x2="95.50" y2="392.90" stroke="#1a1a1a" stroke-width="1.0"/>
<line x1="94.60" y1="383.50" x2="96.40" y2="383.50" stroke="#1a1a1a" stroke-width="1.0"/>
<line x1="94.60" y1="392.50" x2="96.40" y2="392.50" stroke="#1a1a1a" stroke-width="1.0"/>
<line x1="86.30" y1="377.50" x2="97.10" y2="377.50" stroke="#333" stroke-width="1"/>
<text x="91.80" y="375.10" font-size="6.6" text-anchor="middle" fill="#1a1a1a" stroke="#1a1a1a" stroke-width="0.12" textLength="11.60" lengthAdjust="spacingAndGlyphs">n.s.</text>
<line x1="111.50" y1="398.30" x2="111.50" y2="400.70" stroke="#1a1a1a" stroke-width="1"/>
<text x="111.60" y="411.60" font-size="8.4" text-anchor="middle" fill="#1a1a1a" stroke="#1a1a1a" stroke-width="0.12">24</text>
<rect x="105.70" y="393.70" width="5.30" height="4.60" fill="#2e4c7e"/>
<rect x="113.00" y="365.50" width="5.20" height="32.80" fill="#a3002a"/>
<line x1="108.50" y1="392.00" x2="108.50" y2="395.50" stroke="#1a1a1a" stroke-width="1.0"/>
<line x1="107.45" y1="392.50" x2="109.25" y2="392.50" stroke="#1a1a1a" stroke-width="1.0"/>
<line x1="107.45" y1="395.50" x2="109.25" y2="395.50" stroke="#1a1a1a" stroke-width="1.0"/>
<line x1="115.50" y1="352.30" x2="115.50" y2="378.40" stroke="#1a1a1a" stroke-width="1.0"/>
<line x1="114.70" y1="352.50" x2="116.50" y2="352.50" stroke="#1a1a1a" stroke-width="1.0"/>
<line x1="114.70" y1="378.50" x2="116.50" y2="378.50" stroke="#1a1a1a" stroke-width="1.0"/>
<line x1="106.40" y1="348.50" x2="117.20" y2="348.50" stroke="#333" stroke-width="1"/>
<text x="112.35" y="348.00" font-size="7" text-anchor="middle" fill="#1a1a1a" stroke="#1a1a1a" stroke-width="0.4" letter-spacing="0.9">****</text>
<line x1="131.50" y1="398.30" x2="131.50" y2="400.70" stroke="#1a1a1a" stroke-width="1"/>
<text x="131.70" y="411.60" font-size="8.4" text-anchor="middle" fill="#1a1a1a" stroke="#1a1a1a" stroke-width="0.12">48</text>
<rect x="125.80" y="394.80" width="5.30" height="3.50" fill="#2e4c7e"/>
<rect x="133.10" y="385.40" width="5.20" height="12.90" fill="#a3002a"/>
<line x1="128.50" y1="393.00" x2="128.50" y2="396.30" stroke="#1a1a1a" stroke-width="1.0"/>
<line x1="127.55" y1="393.50" x2="129.35" y2="393.50" stroke="#1a1a1a" stroke-width="1.0"/>
<line x1="127.55" y1="396.50" x2="129.35" y2="396.50" stroke="#1a1a1a" stroke-width="1.0"/>
<line x1="135.50" y1="379.40" x2="135.50" y2="391.50" stroke="#1a1a1a" stroke-width="1.0"/>
<line x1="134.80" y1="379.50" x2="136.60" y2="379.50" stroke="#1a1a1a" stroke-width="1.0"/>
<line x1="134.80" y1="391.50" x2="136.60" y2="391.50" stroke="#1a1a1a" stroke-width="1.0"/>
<line x1="126.50" y1="375.50" x2="137.30" y2="375.50" stroke="#333" stroke-width="1"/>
<text x="132.00" y="372.80" font-size="6.6" text-anchor="middle" fill="#1a1a1a" stroke="#1a1a1a" stroke-width="0.12" textLength="11.60" lengthAdjust="spacingAndGlyphs">n.s.</text>
<line x1="151.50" y1="398.30" x2="151.50" y2="400.70" stroke="#1a1a1a" stroke-width="1"/>
<text x="151.80" y="411.60" font-size="8.4" text-anchor="middle" fill="#1a1a1a" stroke="#1a1a1a" stroke-width="0.12">72</text>
<rect x="145.90" y="396.00" width="5.30" height="2.30" fill="#2e4c7e"/>
<rect x="153.20" y="391.50" width="5.20" height="6.80" fill="#a3002a"/>
<line x1="148.50" y1="395.00" x2="148.50" y2="397.00" stroke="#1a1a1a" stroke-width="1.0"/>
<line x1="147.65" y1="395.50" x2="149.45" y2="395.50" stroke="#1a1a1a" stroke-width="1.0"/>
<line x1="147.65" y1="397.50" x2="149.45" y2="397.50" stroke="#1a1a1a" stroke-width="1.0"/>
<line x1="155.50" y1="388.90" x2="155.50" y2="395.60" stroke="#1a1a1a" stroke-width="1.0"/>
<line x1="154.90" y1="388.50" x2="156.70" y2="388.50" stroke="#1a1a1a" stroke-width="1.0"/>
<line x1="154.90" y1="395.50" x2="156.70" y2="395.50" stroke="#1a1a1a" stroke-width="1.0"/>
<line x1="146.60" y1="383.50" x2="157.40" y2="383.50" stroke="#333" stroke-width="1"/>
<text x="152.10" y="381.10" font-size="6.6" text-anchor="middle" fill="#1a1a1a" stroke="#1a1a1a" stroke-width="0.12" textLength="11.60" lengthAdjust="spacingAndGlyphs">n.s.</text>
<line x1="191.50" y1="331.80" x2="191.50" y2="398.80" stroke="#1a1a1a" stroke-width="1.1"/>
<line x1="189.30" y1="398.50" x2="191.90" y2="398.50" stroke="#1a1a1a" stroke-width="1"/>
<text x="185.20" y="401.20" font-size="8.2" text-anchor="end" fill="#1a1a1a" stroke="#1a1a1a" stroke-width="0.12">0</text>
<line x1="189.30" y1="382.50" x2="191.90" y2="382.50" stroke="#1a1a1a" stroke-width="1"/>
<text x="185.20" y="385.30" font-size="8.2" text-anchor="end" fill="#1a1a1a" stroke="#1a1a1a" stroke-width="0.12">5</text>
<line x1="189.30" y1="366.50" x2="191.90" y2="366.50" stroke="#1a1a1a" stroke-width="1"/>
<text x="185.20" y="369.40" font-size="8.2" text-anchor="end" fill="#1a1a1a" stroke="#1a1a1a" stroke-width="0.12">10</text>
<line x1="189.30" y1="350.50" x2="191.90" y2="350.50" stroke="#1a1a1a" stroke-width="1"/>
<text x="185.20" y="353.20" font-size="8.2" text-anchor="end" fill="#1a1a1a" stroke="#1a1a1a" stroke-width="0.12">15</text>
<line x1="189.30" y1="334.50" x2="191.90" y2="334.50" stroke="#1a1a1a" stroke-width="1"/>
<text x="185.20" y="337.10" font-size="8.2" text-anchor="end" fill="#1a1a1a" stroke="#1a1a1a" stroke-width="0.12">20</text>
<line x1="191.40" y1="398.50" x2="291.50" y2="398.50" stroke="#1a1a1a" stroke-width="1.1"/>
<line x1="200.50" y1="398.30" x2="200.50" y2="400.70" stroke="#1a1a1a" stroke-width="1"/>
<text x="200.30" y="411.60" font-size="8.4" text-anchor="middle" fill="#1a1a1a" stroke="#1a1a1a" stroke-width="0.12">0</text>
<rect x="194.40" y="394.80" width="5.30" height="3.50" fill="#2e4c7e"/>
<rect x="201.70" y="393.70" width="5.20" height="4.60" fill="#a3002a"/>
<line x1="197.50" y1="394.30" x2="197.50" y2="395.30" stroke="#1a1a1a" stroke-width="1.0"/>
<line x1="196.15" y1="394.50" x2="197.95" y2="394.50" stroke="#1a1a1a" stroke-width="1.0"/>
<line x1="196.15" y1="395.50" x2="197.95" y2="395.50" stroke="#1a1a1a" stroke-width="1.0"/>
<line x1="204.50" y1="392.00" x2="204.50" y2="396.40" stroke="#1a1a1a" stroke-width="1.0"/>
<line x1="203.40" y1="392.50" x2="205.20" y2="392.50" stroke="#1a1a1a" stroke-width="1.0"/>
<line x1="203.40" y1="396.50" x2="205.20" y2="396.50" stroke="#1a1a1a" stroke-width="1.0"/>
<line x1="195.10" y1="386.50" x2="205.90" y2="386.50" stroke="#333" stroke-width="1"/>
<text x="200.60" y="383.80" font-size="6.6" text-anchor="middle" fill="#1a1a1a" stroke="#1a1a1a" stroke-width="0.12" textLength="11.60" lengthAdjust="spacingAndGlyphs">n.s.</text>
<line x1="220.50" y1="398.30" x2="220.50" y2="400.70" stroke="#1a1a1a" stroke-width="1"/>
<text x="220.45" y="411.60" font-size="8.4" text-anchor="middle" fill="#1a1a1a" stroke="#1a1a1a" stroke-width="0.12">12</text>
<rect x="214.55" y="388.30" width="5.30" height="10.00" fill="#2e4c7e"/>
<rect x="221.85" y="370.00" width="5.20" height="28.30" fill="#a3002a"/>
<line x1="217.50" y1="383.50" x2="217.50" y2="392.90" stroke="#1a1a1a" stroke-width="1.0"/>
<line x1="216.30" y1="383.50" x2="218.10" y2="383.50" stroke="#1a1a1a" stroke-width="1.0"/>
<line x1="216.30" y1="392.50" x2="218.10" y2="392.50" stroke="#1a1a1a" stroke-width="1.0"/>
<line x1="224.50" y1="362.50" x2="224.50" y2="378.00" stroke="#1a1a1a" stroke-width="1.0"/>
<line x1="223.55" y1="362.50" x2="225.35" y2="362.50" stroke="#1a1a1a" stroke-width="1.0"/>
<line x1="223.55" y1="378.50" x2="225.35" y2="378.50" stroke="#1a1a1a" stroke-width="1.0"/>
<line x1="215.25" y1="356.50" x2="226.05" y2="356.50" stroke="#333" stroke-width="1"/>
<text x="220.75" y="354.10" font-size="6.6" text-anchor="middle" fill="#1a1a1a" stroke="#1a1a1a" stroke-width="0.12" textLength="11.60" lengthAdjust="spacingAndGlyphs">n.s.</text>
<line x1="240.50" y1="398.30" x2="240.50" y2="400.70" stroke="#1a1a1a" stroke-width="1"/>
<text x="240.60" y="411.60" font-size="8.4" text-anchor="middle" fill="#1a1a1a" stroke="#1a1a1a" stroke-width="0.12">24</text>
<rect x="234.70" y="386.20" width="5.30" height="12.10" fill="#2e4c7e"/>
<rect x="242.00" y="359.80" width="5.20" height="38.50" fill="#a3002a"/>
<line x1="237.50" y1="379.40" x2="237.50" y2="392.90" stroke="#1a1a1a" stroke-width="1.0"/>
<line x1="236.45" y1="379.50" x2="238.25" y2="379.50" stroke="#1a1a1a" stroke-width="1.0"/>
<line x1="236.45" y1="392.50" x2="238.25" y2="392.50" stroke="#1a1a1a" stroke-width="1.0"/>
<line x1="244.50" y1="351.70" x2="244.50" y2="367.30" stroke="#1a1a1a" stroke-width="1.0"/>
<line x1="243.70" y1="351.50" x2="245.50" y2="351.50" stroke="#1a1a1a" stroke-width="1.0"/>
<line x1="243.70" y1="367.50" x2="245.50" y2="367.50" stroke="#1a1a1a" stroke-width="1.0"/>
<line x1="235.40" y1="344.50" x2="246.20" y2="344.50" stroke="#333" stroke-width="1"/>
<text x="241.35" y="344.00" font-size="7" text-anchor="middle" fill="#1a1a1a" stroke="#1a1a1a" stroke-width="0.4" letter-spacing="0.9">*</text>
<line x1="260.50" y1="398.30" x2="260.50" y2="400.70" stroke="#1a1a1a" stroke-width="1"/>
<text x="260.75" y="411.60" font-size="8.4" text-anchor="middle" fill="#1a1a1a" stroke="#1a1a1a" stroke-width="0.12">48</text>
<rect x="254.85" y="382.10" width="5.30" height="16.20" fill="#2e4c7e"/>
<rect x="262.15" y="354.70" width="5.20" height="43.60" fill="#a3002a"/>
<line x1="257.50" y1="376.70" x2="257.50" y2="387.50" stroke="#1a1a1a" stroke-width="1.0"/>
<line x1="256.60" y1="376.50" x2="258.40" y2="376.50" stroke="#1a1a1a" stroke-width="1.0"/>
<line x1="256.60" y1="387.50" x2="258.40" y2="387.50" stroke="#1a1a1a" stroke-width="1.0"/>
<line x1="264.50" y1="339.00" x2="264.50" y2="371.40" stroke="#1a1a1a" stroke-width="1.0"/>
<line x1="263.85" y1="339.50" x2="265.65" y2="339.50" stroke="#1a1a1a" stroke-width="1.0"/>
<line x1="263.85" y1="371.50" x2="265.65" y2="371.50" stroke="#1a1a1a" stroke-width="1.0"/>
<line x1="255.55" y1="331.50" x2="266.35" y2="331.50" stroke="#333" stroke-width="1"/>
<text x="261.50" y="331.40" font-size="7" text-anchor="middle" fill="#1a1a1a" stroke="#1a1a1a" stroke-width="0.4" letter-spacing="0.9">*</text>
<line x1="280.50" y1="398.30" x2="280.50" y2="400.70" stroke="#1a1a1a" stroke-width="1"/>
<text x="280.90" y="411.60" font-size="8.4" text-anchor="middle" fill="#1a1a1a" stroke="#1a1a1a" stroke-width="0.12">72</text>
<rect x="275.00" y="384.30" width="5.30" height="14.00" fill="#2e4c7e"/>
<rect x="282.30" y="373.20" width="5.20" height="25.10" fill="#a3002a"/>
<line x1="277.50" y1="378.10" x2="277.50" y2="390.20" stroke="#1a1a1a" stroke-width="1.0"/>
<line x1="276.75" y1="378.50" x2="278.55" y2="378.50" stroke="#1a1a1a" stroke-width="1.0"/>
<line x1="276.75" y1="390.50" x2="278.55" y2="390.50" stroke="#1a1a1a" stroke-width="1.0"/>
<line x1="284.50" y1="370.50" x2="284.50" y2="376.70" stroke="#1a1a1a" stroke-width="1.0"/>
<line x1="284.00" y1="370.50" x2="285.80" y2="370.50" stroke="#1a1a1a" stroke-width="1.0"/>
<line x1="284.00" y1="376.50" x2="285.80" y2="376.50" stroke="#1a1a1a" stroke-width="1.0"/>
<line x1="275.70" y1="364.50" x2="286.50" y2="364.50" stroke="#333" stroke-width="1"/>
<text x="281.20" y="361.70" font-size="6.6" text-anchor="middle" fill="#1a1a1a" stroke="#1a1a1a" stroke-width="0.12" textLength="11.60" lengthAdjust="spacingAndGlyphs">n.s.</text>
<line x1="62.50" y1="447.00" x2="62.50" y2="513.90" stroke="#1a1a1a" stroke-width="1.1"/>
<line x1="60.20" y1="513.50" x2="62.80" y2="513.50" stroke="#1a1a1a" stroke-width="1"/>
<text x="56.00" y="516.30" font-size="8.2" text-anchor="end" fill="#1a1a1a" stroke="#1a1a1a" stroke-width="0.12">0</text>
<line x1="60.20" y1="492.50" x2="62.80" y2="492.50" stroke="#1a1a1a" stroke-width="1"/>
<text x="56.00" y="495.10" font-size="8.2" text-anchor="end" fill="#1a1a1a" stroke="#1a1a1a" stroke-width="0.12">2</text>
<line x1="60.20" y1="470.50" x2="62.80" y2="470.50" stroke="#1a1a1a" stroke-width="1"/>
<text x="56.00" y="473.60" font-size="8.2" text-anchor="end" fill="#1a1a1a" stroke="#1a1a1a" stroke-width="0.12">4</text>
<line x1="60.20" y1="449.50" x2="62.80" y2="449.50" stroke="#1a1a1a" stroke-width="1"/>
<text x="56.00" y="452.00" font-size="8.2" text-anchor="end" fill="#1a1a1a" stroke="#1a1a1a" stroke-width="0.12">6</text>
<line x1="62.30" y1="513.50" x2="161.90" y2="513.50" stroke="#1a1a1a" stroke-width="1.1"/>
<line x1="71.50" y1="513.40" x2="71.50" y2="515.80" stroke="#1a1a1a" stroke-width="1"/>
<text x="71.40" y="526.70" font-size="8.4" text-anchor="middle" fill="#1a1a1a" stroke="#1a1a1a" stroke-width="0.12">0</text>
<rect x="65.50" y="503.50" width="5.30" height="9.90" fill="#2e4c7e"/>
<rect x="72.80" y="503.50" width="5.20" height="9.90" fill="#a3002a"/>
<line x1="68.50" y1="502.20" x2="68.50" y2="505.00" stroke="#1a1a1a" stroke-width="1.0"/>
<line x1="67.25" y1="502.50" x2="69.05" y2="502.50" stroke="#1a1a1a" stroke-width="1.0"/>
<line x1="67.25" y1="505.50" x2="69.05" y2="505.50" stroke="#1a1a1a" stroke-width="1.0"/>
<line x1="75.50" y1="502.00" x2="75.50" y2="505.00" stroke="#1a1a1a" stroke-width="1.0"/>
<line x1="74.50" y1="502.50" x2="76.30" y2="502.50" stroke="#1a1a1a" stroke-width="1.0"/>
<line x1="74.50" y1="505.50" x2="76.30" y2="505.50" stroke="#1a1a1a" stroke-width="1.0"/>
<line x1="66.20" y1="496.50" x2="77.00" y2="496.50" stroke="#333" stroke-width="1"/>
<text x="71.70" y="494.30" font-size="6.6" text-anchor="middle" fill="#1a1a1a" stroke="#1a1a1a" stroke-width="0.12" textLength="11.60" lengthAdjust="spacingAndGlyphs">n.s.</text>
<line x1="91.50" y1="513.40" x2="91.50" y2="515.80" stroke="#1a1a1a" stroke-width="1"/>
<text x="91.50" y="526.70" font-size="8.4" text-anchor="middle" fill="#1a1a1a" stroke="#1a1a1a" stroke-width="0.12">12</text>
<rect x="85.60" y="498.10" width="5.30" height="15.30" fill="#2e4c7e"/>
<rect x="92.90" y="464.40" width="5.20" height="49.00" fill="#a3002a"/>
<line x1="88.50" y1="493.20" x2="88.50" y2="502.10" stroke="#1a1a1a" stroke-width="1.0"/>
<line x1="87.35" y1="493.50" x2="89.15" y2="493.50" stroke="#1a1a1a" stroke-width="1.0"/>
<line x1="87.35" y1="502.50" x2="89.15" y2="502.50" stroke="#1a1a1a" stroke-width="1.0"/>
<line x1="95.50" y1="452.30" x2="95.50" y2="476.50" stroke="#1a1a1a" stroke-width="1.0"/>
<line x1="94.60" y1="452.50" x2="96.40" y2="452.50" stroke="#1a1a1a" stroke-width="1.0"/>
<line x1="94.60" y1="476.50" x2="96.40" y2="476.50" stroke="#1a1a1a" stroke-width="1.0"/>
<line x1="86.30" y1="446.50" x2="97.10" y2="446.50" stroke="#333" stroke-width="1"/>
<text x="92.25" y="445.70" font-size="7" text-anchor="middle" fill="#1a1a1a" stroke="#1a1a1a" stroke-width="0.4" letter-spacing="0.9">**</text>
<line x1="111.50" y1="513.40" x2="111.50" y2="515.80" stroke="#1a1a1a" stroke-width="1"/>
<text x="111.60" y="526.70" font-size="8.4" text-anchor="middle" fill="#1a1a1a" stroke="#1a1a1a" stroke-width="0.12">24</text>
<rect x="105.70" y="492.20" width="5.30" height="21.20" fill="#2e4c7e"/>
<rect x="113.00" y="469.30" width="5.20" height="44.10" fill="#a3002a"/>
<line x1="108.50" y1="485.40" x2="108.50" y2="499.40" stroke="#1a1a1a" stroke-width="1.0"/>
<line x1="107.45" y1="485.50" x2="109.25" y2="485.50" stroke="#1a1a1a" stroke-width="1.0"/>
<line x1="107.45" y1="499.50" x2="109.25" y2="499.50" stroke="#1a1a1a" stroke-width="1.0"/>
<line x1="115.50" y1="459.80" x2="115.50" y2="478.70" stroke="#1a1a1a" stroke-width="1.0"/>
<line x1="114.70" y1="459.50" x2="116.50" y2="459.50" stroke="#1a1a1a" stroke-width="1.0"/>
<line x1="114.70" y1="478.50" x2="116.50" y2="478.50" stroke="#1a1a1a" stroke-width="1.0"/>
<line x1="106.40" y1="456.50" x2="117.20" y2="456.50" stroke="#333" stroke-width="1"/>
<text x="111.90" y="453.90" font-size="6.6" text-anchor="middle" fill="#1a1a1a" stroke="#1a1a1a" stroke-width="0.12" textLength="11.60" lengthAdjust="spacingAndGlyphs">n.s.</text>
<line x1="131.50" y1="513.40" x2="131.50" y2="515.80" stroke="#1a1a1a" stroke-width="1"/>
<text x="131.70" y="526.70" font-size="8.4" text-anchor="middle" fill="#1a1a1a" stroke="#1a1a1a" stroke-width="0.12">48</text>
<rect x="125.80" y="479.80" width="5.30" height="33.60" fill="#2e4c7e"/>
<rect x="133.10" y="473.00" width="5.20" height="40.40" fill="#a3002a"/>
<line x1="128.50" y1="471.20" x2="128.50" y2="488.70" stroke="#1a1a1a" stroke-width="1.0"/>
<line x1="127.55" y1="471.50" x2="129.35" y2="471.50" stroke="#1a1a1a" stroke-width="1.0"/>
<line x1="127.55" y1="488.50" x2="129.35" y2="488.50" stroke="#1a1a1a" stroke-width="1.0"/>
<line x1="135.50" y1="465.80" x2="135.50" y2="480.60" stroke="#1a1a1a" stroke-width="1.0"/>
<line x1="134.80" y1="465.50" x2="136.60" y2="465.50" stroke="#1a1a1a" stroke-width="1.0"/>
<line x1="134.80" y1="480.50" x2="136.60" y2="480.50" stroke="#1a1a1a" stroke-width="1.0"/>
<line x1="126.50" y1="461.50" x2="137.30" y2="461.50" stroke="#333" stroke-width="1"/>
<text x="132.00" y="459.30" font-size="6.6" text-anchor="middle" fill="#1a1a1a" stroke="#1a1a1a" stroke-width="0.12" textLength="11.60" lengthAdjust="spacingAndGlyphs">n.s.</text>
<line x1="151.50" y1="513.40" x2="151.50" y2="515.80" stroke="#1a1a1a" stroke-width="1"/>
<text x="151.80" y="526.70" font-size="8.4" text-anchor="middle" fill="#1a1a1a" stroke="#1a1a1a" stroke-width="0.12">72</text>
<rect x="145.90" y="490.80" width="5.30" height="22.60" fill="#2e4c7e"/>
<rect x="153.20" y="484.10" width="5.20" height="29.30" fill="#a3002a"/>
<line x1="148.50" y1="486.80" x2="148.50" y2="494.00" stroke="#1a1a1a" stroke-width="1.0"/>
<line x1="147.65" y1="486.50" x2="149.45" y2="486.50" stroke="#1a1a1a" stroke-width="1.0"/>
<line x1="147.65" y1="494.50" x2="149.45" y2="494.50" stroke="#1a1a1a" stroke-width="1.0"/>
<line x1="155.50" y1="479.80" x2="155.50" y2="487.90" stroke="#1a1a1a" stroke-width="1.0"/>
<line x1="154.90" y1="479.50" x2="156.70" y2="479.50" stroke="#1a1a1a" stroke-width="1.0"/>
<line x1="154.90" y1="487.50" x2="156.70" y2="487.50" stroke="#1a1a1a" stroke-width="1.0"/>
<line x1="146.60" y1="473.50" x2="157.40" y2="473.50" stroke="#333" stroke-width="1"/>
<text x="152.10" y="471.40" font-size="6.6" text-anchor="middle" fill="#1a1a1a" stroke="#1a1a1a" stroke-width="0.12" textLength="11.60" lengthAdjust="spacingAndGlyphs">n.s.</text>
<line x1="191.50" y1="446.40" x2="191.50" y2="513.90" stroke="#1a1a1a" stroke-width="1.1"/>
<line x1="189.30" y1="513.50" x2="191.90" y2="513.50" stroke="#1a1a1a" stroke-width="1"/>
<text x="185.20" y="516.30" font-size="8.2" text-anchor="end" fill="#1a1a1a" stroke="#1a1a1a" stroke-width="0.12">0</text>
<line x1="189.30" y1="497.50" x2="191.90" y2="497.50" stroke="#1a1a1a" stroke-width="1"/>
<text x="185.20" y="500.20" font-size="8.2" text-anchor="end" fill="#1a1a1a" stroke="#1a1a1a" stroke-width="0.12">50</text>
<line x1="189.30" y1="481.50" x2="191.90" y2="481.50" stroke="#1a1a1a" stroke-width="1"/>
<text x="185.20" y="484.10" font-size="8.2" text-anchor="end" fill="#1a1a1a" stroke="#1a1a1a" stroke-width="0.12">100</text>
<line x1="189.30" y1="465.50" x2="191.90" y2="465.50" stroke="#1a1a1a" stroke-width="1"/>
<text x="185.20" y="467.90" font-size="8.2" text-anchor="end" fill="#1a1a1a" stroke="#1a1a1a" stroke-width="0.12">150</text>
<line x1="189.30" y1="448.50" x2="191.90" y2="448.50" stroke="#1a1a1a" stroke-width="1"/>
<text x="185.20" y="451.20" font-size="8.2" text-anchor="end" fill="#1a1a1a" stroke="#1a1a1a" stroke-width="0.12">200</text>
<line x1="191.40" y1="513.50" x2="291.50" y2="513.50" stroke="#1a1a1a" stroke-width="1.1"/>
<line x1="200.50" y1="513.40" x2="200.50" y2="515.80" stroke="#1a1a1a" stroke-width="1"/>
<text x="200.30" y="526.70" font-size="8.4" text-anchor="middle" fill="#1a1a1a" stroke="#1a1a1a" stroke-width="0.12">0</text>
<rect x="201.70" y="512.80" width="5.20" height="0.60" fill="#a3002a"/>
<line x1="195.10" y1="508.50" x2="205.90" y2="508.50" stroke="#333" stroke-width="1"/>
<text x="200.60" y="505.90" font-size="6.6" text-anchor="middle" fill="#1a1a1a" stroke="#1a1a1a" stroke-width="0.12" textLength="11.60" lengthAdjust="spacingAndGlyphs">n.s.</text>
<line x1="220.50" y1="513.40" x2="220.50" y2="515.80" stroke="#1a1a1a" stroke-width="1"/>
<text x="220.45" y="526.70" font-size="8.4" text-anchor="middle" fill="#1a1a1a" stroke="#1a1a1a" stroke-width="0.12">12</text>
<rect x="214.55" y="512.50" width="5.30" height="0.90" fill="#2e4c7e"/>
<rect x="221.85" y="506.20" width="5.20" height="7.20" fill="#a3002a"/>
<line x1="224.50" y1="503.50" x2="224.50" y2="508.90" stroke="#1a1a1a" stroke-width="1.0"/>
<line x1="223.55" y1="503.50" x2="225.35" y2="503.50" stroke="#1a1a1a" stroke-width="1.0"/>
<line x1="223.55" y1="508.50" x2="225.35" y2="508.50" stroke="#1a1a1a" stroke-width="1.0"/>
<line x1="215.25" y1="499.50" x2="226.05" y2="499.50" stroke="#333" stroke-width="1"/>
<text x="220.75" y="497.00" font-size="6.6" text-anchor="middle" fill="#1a1a1a" stroke="#1a1a1a" stroke-width="0.12" textLength="11.60" lengthAdjust="spacingAndGlyphs">n.s.</text>
<line x1="240.50" y1="513.40" x2="240.50" y2="515.80" stroke="#1a1a1a" stroke-width="1"/>
<text x="240.60" y="526.70" font-size="8.4" text-anchor="middle" fill="#1a1a1a" stroke="#1a1a1a" stroke-width="0.12">24</text>
<rect x="234.70" y="505.60" width="5.30" height="7.80" fill="#2e4c7e"/>
<rect x="242.00" y="482.50" width="5.20" height="30.90" fill="#a3002a"/>
<line x1="237.50" y1="502.10" x2="237.50" y2="509.40" stroke="#1a1a1a" stroke-width="1.0"/>
<line x1="236.45" y1="502.50" x2="238.25" y2="502.50" stroke="#1a1a1a" stroke-width="1.0"/>
<line x1="236.45" y1="509.50" x2="238.25" y2="509.50" stroke="#1a1a1a" stroke-width="1.0"/>
<line x1="244.50" y1="471.20" x2="244.50" y2="493.20" stroke="#1a1a1a" stroke-width="1.0"/>
<line x1="243.70" y1="471.50" x2="245.50" y2="471.50" stroke="#1a1a1a" stroke-width="1.0"/>
<line x1="243.70" y1="493.50" x2="245.50" y2="493.50" stroke="#1a1a1a" stroke-width="1.0"/>
<line x1="235.40" y1="468.50" x2="246.20" y2="468.50" stroke="#333" stroke-width="1"/>
<text x="240.90" y="466.10" font-size="6.6" text-anchor="middle" fill="#1a1a1a" stroke="#1a1a1a" stroke-width="0.12" textLength="11.60" lengthAdjust="spacingAndGlyphs">n.s.</text>
<line x1="260.50" y1="513.40" x2="260.50" y2="515.80" stroke="#1a1a1a" stroke-width="1"/>
<text x="260.75" y="526.70" font-size="8.4" text-anchor="middle" fill="#1a1a1a" stroke="#1a1a1a" stroke-width="0.12">48</text>
<rect x="254.85" y="496.20" width="5.30" height="17.20" fill="#2e4c7e"/>
<rect x="262.15" y="468.50" width="5.20" height="44.90" fill="#a3002a"/>
<line x1="257.50" y1="487.30" x2="257.50" y2="505.60" stroke="#1a1a1a" stroke-width="1.0"/>
<line x1="256.60" y1="487.50" x2="258.40" y2="487.50" stroke="#1a1a1a" stroke-width="1.0"/>
<line x1="256.60" y1="505.50" x2="258.40" y2="505.50" stroke="#1a1a1a" stroke-width="1.0"/>
<line x1="264.50" y1="454.50" x2="264.50" y2="482.50" stroke="#1a1a1a" stroke-width="1.0"/>
<line x1="263.85" y1="454.50" x2="265.65" y2="454.50" stroke="#1a1a1a" stroke-width="1.0"/>
<line x1="263.85" y1="482.50" x2="265.65" y2="482.50" stroke="#1a1a1a" stroke-width="1.0"/>
<line x1="255.55" y1="450.50" x2="266.35" y2="450.50" stroke="#333" stroke-width="1"/>
<text x="261.50" y="450.00" font-size="7" text-anchor="middle" fill="#1a1a1a" stroke="#1a1a1a" stroke-width="0.4" letter-spacing="0.9">*</text>
<line x1="280.50" y1="513.40" x2="280.50" y2="515.80" stroke="#1a1a1a" stroke-width="1"/>
<text x="280.90" y="526.70" font-size="8.4" text-anchor="middle" fill="#1a1a1a" stroke="#1a1a1a" stroke-width="0.12">72</text>
<rect x="275.00" y="502.90" width="5.30" height="10.50" fill="#2e4c7e"/>
<rect x="282.30" y="489.20" width="5.20" height="24.20" fill="#a3002a"/>
<line x1="277.50" y1="498.60" x2="277.50" y2="506.70" stroke="#1a1a1a" stroke-width="1.0"/>
<line x1="276.75" y1="498.50" x2="278.55" y2="498.50" stroke="#1a1a1a" stroke-width="1.0"/>
<line x1="276.75" y1="506.50" x2="278.55" y2="506.50" stroke="#1a1a1a" stroke-width="1.0"/>
<line x1="284.50" y1="483.30" x2="284.50" y2="495.90" stroke="#1a1a1a" stroke-width="1.0"/>
<line x1="284.00" y1="483.50" x2="285.80" y2="483.50" stroke="#1a1a1a" stroke-width="1.0"/>
<line x1="284.00" y1="495.50" x2="285.80" y2="495.50" stroke="#1a1a1a" stroke-width="1.0"/>
<line x1="275.70" y1="478.50" x2="286.50" y2="478.50" stroke="#333" stroke-width="1"/>
<text x="281.20" y="476.30" font-size="6.6" text-anchor="middle" fill="#1a1a1a" stroke="#1a1a1a" stroke-width="0.12" textLength="11.60" lengthAdjust="spacingAndGlyphs">n.s.</text>
<line x1="34.50" y1="348.70" x2="34.50" y2="495.00" stroke="#555" stroke-width="1"/>
<text x="28.90" y="421.10" font-size="10" text-anchor="middle" fill="#1a1a1a" stroke="#1a1a1a" stroke-width="0.3" textLength="68.50" lengthAdjust="spacingAndGlyphs" transform="rotate(-90 28.90 421.10)">Relative expression</text>
<line x1="84.00" y1="532.50" x2="269.70" y2="532.50" stroke="#333" stroke-width="1.1"/>
<text x="177.30" y="544.10" font-size="10" text-anchor="middle" fill="#1a1a1a" stroke="#1a1a1a" stroke-width="0.3" textLength="49.80" lengthAdjust="spacingAndGlyphs">Activation (hr)</text>
<rect x="109.80" y="554.20" width="12.10" height="6.40" fill="#2e4c7e"/>
<rect x="183.40" y="554.30" width="12.40" height="6.50" fill="#a3002a"/>
<text x="125.80" y="559.80" font-size="7.8" fill="#1a1a1a" stroke="#1a1a1a" stroke-width="0.12" textLength="48.40" lengthAdjust="spacingAndGlyphs"><tspan font-style="italic">Crbn</tspan><tspan font-size="5.46" dy="-3.28">+/+</tspan><tspan dy="3.28"> CD8</tspan><tspan font-size="5.5" dy="-3.3">+</tspan><tspan dy="3.3"></tspan></text>
<text x="198.80" y="559.80" font-size="7.8" fill="#1a1a1a" stroke="#1a1a1a" stroke-width="0.12" textLength="44.60" lengthAdjust="spacingAndGlyphs"><tspan font-style="italic">Crbn</tspan><tspan font-size="5.46" dy="-3.28">-/-</tspan><tspan dy="3.28"> CD8</tspan><tspan font-size="5.5" dy="-3.3">+</tspan><tspan dy="3.3"></tspan></text>
<text x="306.90" y="319.70" font-size="12.6" font-weight="bold" fill="#000">G</text>
<defs><radialGradient id="pg" cx="0.62" cy="0.62" r="0.75"><stop offset="0" stop-color="#e2e2e2"/><stop offset="0.5" stop-color="#d2d2d2"/><stop offset="1" stop-color="#b4b4b4"/></radialGradient><linearGradient id="rg" x1="0" y1="0" x2="1" y2="0"><stop offset="0" stop-color="#cdcdcd"/><stop offset="0.5" stop-color="#d9d9d9"/><stop offset="1" stop-color="#d2d2d2"/></linearGradient><filter id="bl3" x="-50%" y="-50%" width="200%" height="200%"><feGaussianBlur stdDeviation="0.5"/></filter><filter id="bl4" x="-10%" y="-10%" width="120%" height="120%"><feGaussianBlur stdDeviation="0.35"/></filter></defs>
<rect x="348.80" y="323.20" width="75.40" height="62.30" fill="url(#pg)"/>
<g filter="url(#bl4)"><rect x="351.8" y="364.3" width="71.6" height="17.5" fill="url(#rg)"/><rect x="351.8" y="364.3" width="71.6" height="1.6" fill="#a9a9a9"/><rect x="351.8" y="380.8" width="71.6" height="1.2" fill="#b9b9b9"/><rect x="353.00" y="366" width="0.45" height="2.6" fill="#a2a2a2"/><rect x="353.00" y="377.4" width="0.45" height="2.8" fill="#a2a2a2"/><rect x="355.10" y="366" width="0.45" height="1.6" fill="#a2a2a2"/><rect x="355.10" y="378.6" width="0.45" height="1.6" fill="#a2a2a2"/><rect x="357.20" y="366" width="0.45" height="1.6" fill="#a2a2a2"/><rect x="357.20" y="378.6" width="0.45" height="1.6" fill="#a2a2a2"/><rect x="359.30" y="366" width="0.45" height="1.6" fill="#a2a2a2"/><rect x="359.30" y="378.6" width="0.45" height="1.6" fill="#a2a2a2"/><rect x="361.40" y="366" width="0.45" height="2.6" fill="#a2a2a2"/><rect x="361.40" y="377.4" width="0.45" height="2.8" fill="#a2a2a2"/><rect x="363.50" y="366" width="0.45" height="1.6" fill="#a2a2a2"/><rect x="363.50" y="378.6" width="0.45" height="1.6" fill="#a2a2a2"/><rect x="365.60" y="366" width="0.45" height="1.6" fill="#a2a2a2"/><rect x="365.60" y="378.6" width="0.45" height="1.6" fill="#a2a2a2"/><rect x="367.70" y="366" width="0.45" height="1.6" fill="#a2a2a2"/><rect x="367.70" y="378.6" width="0.45" height="1.6" fill="#a2a2a2"/><rect x="369.80" y="366" width="0.45" height="2.6" fill="#a2a2a2"/><rect x="369.80" y="377.4" width="0.45" height="2.8" fill="#a2a2a2"/><rect x="371.90" y="366" width="0.45" height="1.6" fill="#a2a2a2"/><rect x="371.90" y="378.6" width="0.45" height="1.6" fill="#a2a2a2"/><rect x="374.00" y="366" width="0.45" height="1.6" fill="#a2a2a2"/><rect x="374.00" y="378.6" width="0.45" height="1.6" fill="#a2a2a2"/><rect x="376.10" y="366" width="0.45" height="1.6" fill="#a2a2a2"/><rect x="376.10" y="378.6" width="0.45" height="1.6" fill="#a2a2a2"/><rect x="378.20" y="366" width="0.45" height="2.6" fill="#a2a2a2"/><rect x="378.20" y="377.4" width="0.45" height="2.8" fill="#a2a2a2"/><rect x="380.30" y="366" width="0.45" height="1.6" fill="#a2a2a2"/><rect x="380.30" y="378.6" width="0.45" height="1.6" fill="#a2a2a2"/><rect x="382.40" y="366" width="0.45" height="1.6" fill="#a2a2a2"/><rect x="382.40" y="378.6" width="0.45" height="1.6" fill="#a2a2a2"/><rect x="384.50" y="366" width="0.45" height="1.6" fill="#a2a2a2"/><rect x="384.50" y="378.6" width="0.45" height="1.6" fill="#a2a2a2"/><rect x="386.60" y="366" width="0.45" height="2.6" fill="#a2a2a2"/><rect x="386.60" y="377.4" width="0.45" height="2.8" fill="#a2a2a2"/><rect x="388.70" y="366" width="0.45" height="1.6" fill="#a2a2a2"/><rect x="388.70" y="378.6" width="0.45" height="1.6" fill="#a2a2a2"/><rect x="390.80" y="366" width="0.45" height="1.6" fill="#a2a2a2"/><rect x="390.80" y="378.6" width="0.45" height="1.6" fill="#a2a2a2"/><rect x="392.90" y="366" width="0.45" height="1.6" fill="#a2a2a2"/><rect x="392.90" y="378.6" width="0.45" height="1.6" fill="#a2a2a2"/><rect x="395.00" y="366" width="0.45" height="2.6" fill="#a2a2a2"/><rect x="395.00" y="377.4" width="0.45" height="2.8" fill="#a2a2a2"/><rect x="397.10" y="366" width="0.45" height="1.6" fill="#a2a2a2"/><rect x="397.10" y="378.6" width="0.45" height="1.6" fill="#a2a2a2"/><rect x="399.20" y="366" width="0.45" height="1.6" fill="#a2a2a2"/><rect x="399.20" y="378.6" width="0.45" height="1.6" fill="#a2a2a2"/><rect x="401.30" y="366" width="0.45" height="1.6" fill="#a2a2a2"/><rect x="401.30" y="378.6" width="0.45" height="1.6" fill="#a2a2a2"/><rect x="403.40" y="366" width="0.45" height="2.6" fill="#a2a2a2"/><rect x="403.40" y="377.4" width="0.45" height="2.8" fill="#a2a2a2"/><rect x="405.50" y="366" width="0.45" height="1.6" fill="#a2a2a2"/><rect x="405.50" y="378.6" width="0.45" height="1.6" fill="#a2a2a2"/><rect x="407.60" y="366" width="0.45" height="1.6" fill="#a2a2a2"/><rect x="407.60" y="378.6" width="0.45" height="1.6" fill="#a2a2a2"/><rect x="409.70" y="366" width="0.45" height="1.6" fill="#a2a2a2"/><rect x="409.70" y="378.6" width="0.45" height="1.6" fill="#a2a2a2"/><rect x="411.80" y="366" width="0.45" height="2.6" fill="#a2a2a2"/><rect x="411.80" y="377.4" width="0.45" height="2.8" fill="#a2a2a2"/><rect x="413.90" y="366" width="0.45" height="1.6" fill="#a2a2a2"/><rect x="413.90" y="378.6" width="0.45" height="1.6" fill="#a2a2a2"/><rect x="416.00" y="366" width="0.45" height="1.6" fill="#a2a2a2"/><rect x="416.00" y="378.6" width="0.45" height="1.6" fill="#a2a2a2"/><rect x="418.10" y="366" width="0.45" height="1.6" fill="#a2a2a2"/><rect x="418.10" y="378.6" width="0.45" height="1.6" fill="#a2a2a2"/><rect x="420.20" y="366" width="0.45" height="2.6" fill="#a2a2a2"/><rect x="420.20" y="377.4" width="0.45" height="2.8" fill="#a2a2a2"/><rect x="422.30" y="366" width="0.45" height="1.6" fill="#a2a2a2"/><rect x="422.30" y="378.6" width="0.45" height="1.6" fill="#a2a2a2"/><rect x="352.6" y="370.2" width="3" height="1.4" fill="#777"/><rect x="352.6" y="373.6" width="2.4" height="1.3" fill="#777"/><rect x="360.00" y="370.2" width="1.2" height="1.6" fill="#909090"/><rect x="368.20" y="370.2" width="1.2" height="1.6" fill="#909090"/><rect x="376.60" y="370.2" width="1.2" height="1.6" fill="#909090"/><rect x="385.10" y="370.2" width="1.2" height="1.6" fill="#909090"/><rect x="393.20" y="370.2" width="1.2" height="1.6" fill="#909090"/><rect x="401.60" y="370.2" width="1.2" height="1.6" fill="#909090"/><rect x="409.70" y="370.2" width="1.2" height="1.6" fill="#909090"/><rect x="418.20" y="370.2" width="1.2" height="1.6" fill="#909090"/><rect x="373.10" y="373.3" width="0.7" height="2.2" fill="#909090"/><rect x="394.20" y="373.3" width="0.7" height="2.2" fill="#909090"/><rect x="415.40" y="373.3" width="0.7" height="2.2" fill="#909090"/></g>
<g filter="url(#bl3)" fill="#111"><path d="M354.6,328.4 C355.2,326.8 358.4,326.4 360.8,327.6 C362.2,328.4 362.8,329.6 363.8,329.4 C365.2,328.6 367.6,328.4 368.8,329.6 C369.8,330.8 369.2,333.6 367.6,334.8 C365.6,336.2 361.6,336.4 359.4,335.2 C357.4,334.0 354.0,330.4 354.6,328.4 Z"/><path d="M379.5,325.6 C381.7,326.1 381.8,328.6 380.6,330.1 C379.8,331.4 379.0,333.8 376.8,334.2 C374.5,334.5 373.6,332.7 374.2,331 C374.8,329.6 376.1,328.8 376.7,327.5 C377.3,326.2 378.2,325.3 379.5,325.6 Z"/><ellipse cx="389.1" cy="332.1" rx="3.1" ry="3.5"/><ellipse cx="399.8" cy="332.9" rx="2.5" ry="2.0"/><ellipse cx="409.0" cy="333.2" rx="1.7" ry="1.6"/><ellipse cx="419.2" cy="332.3" rx="1.15" ry="1.05"/><ellipse cx="361.2" cy="354.1" rx="2.4" ry="2.2"/><ellipse cx="377.2" cy="353.2" rx="2.8" ry="1.9"/><ellipse cx="389.3" cy="354.0" rx="1.5" ry="1.7"/><ellipse cx="399.2" cy="354.4" rx="1.5" ry="1.4"/><ellipse cx="408.5" cy="353.7" rx="2.0" ry="1.35"/><ellipse cx="419.8" cy="351.5" rx="1.25" ry="1.05"/></g>
<text x="427.20" y="335.20" font-size="9.2" fill="#1a1a1a" stroke="#1a1a1a" stroke-width="0.12" textLength="28.20" lengthAdjust="spacingAndGlyphs"><tspan font-style="italic">Crbn</tspan><tspan font-size="6.44" dy="-3.86">+/+</tspan><tspan dy="3.86"></tspan></text>
<text x="427.20" y="357.30" font-size="9.2" fill="#1a1a1a" stroke="#1a1a1a" stroke-width="0.12" textLength="24.80" lengthAdjust="spacingAndGlyphs"><tspan font-style="italic">Crbn</tspan><tspan font-size="6.44" dy="-3.86">-/-</tspan><tspan dy="3.86"></tspan></text>
<text x="307.60" y="412.00" font-size="12.6" font-weight="bold" fill="#000">H</text>
<line x1="349.50" y1="417.90" x2="349.50" y2="497.90" stroke="#1a1a1a" stroke-width="1.1"/>
<line x1="346.80" y1="497.50" x2="349.40" y2="497.50" stroke="#1a1a1a" stroke-width="1"/>
<text x="343.10" y="500.30" font-size="8.2" text-anchor="end" fill="#1a1a1a" stroke="#1a1a1a" stroke-width="0.12">0</text>
<line x1="346.80" y1="478.50" x2="349.40" y2="478.50" stroke="#1a1a1a" stroke-width="1"/>
<text x="343.10" y="481.37" font-size="8.2" text-anchor="end" fill="#1a1a1a" stroke="#1a1a1a" stroke-width="0.12">1</text>
<line x1="346.80" y1="459.50" x2="349.40" y2="459.50" stroke="#1a1a1a" stroke-width="1"/>
<text x="343.10" y="462.44" font-size="8.2" text-anchor="end" fill="#1a1a1a" stroke="#1a1a1a" stroke-width="0.12">2</text>
<line x1="346.80" y1="440.50" x2="349.40" y2="440.50" stroke="#1a1a1a" stroke-width="1"/>
<text x="343.10" y="443.51" font-size="8.2" text-anchor="end" fill="#1a1a1a" stroke="#1a1a1a" stroke-width="0.12">3</text>
<line x1="346.80" y1="421.50" x2="349.40" y2="421.50" stroke="#1a1a1a" stroke-width="1"/>
<text x="343.10" y="424.58" font-size="8.2" text-anchor="end" fill="#1a1a1a" stroke="#1a1a1a" stroke-width="0.12">4</text>
<line x1="348.90" y1="497.50" x2="457.20" y2="497.50" stroke="#1a1a1a" stroke-width="1.1"/>
<line x1="349.50" y1="497.40" x2="349.50" y2="499.80" stroke="#1a1a1a" stroke-width="1"/>
<text x="349.00" y="510.60" font-size="8.4" text-anchor="middle" fill="#1a1a1a" stroke="#1a1a1a" stroke-width="0.12">8</text>
<line x1="370.50" y1="497.40" x2="370.50" y2="499.80" stroke="#1a1a1a" stroke-width="1"/>
<text x="370.10" y="510.60" font-size="8.4" text-anchor="middle" fill="#1a1a1a" stroke="#1a1a1a" stroke-width="0.12">10</text>
<line x1="391.50" y1="497.40" x2="391.50" y2="499.80" stroke="#1a1a1a" stroke-width="1"/>
<text x="391.20" y="510.60" font-size="8.4" text-anchor="middle" fill="#1a1a1a" stroke="#1a1a1a" stroke-width="0.12">12</text>
<line x1="412.50" y1="497.40" x2="412.50" y2="499.80" stroke="#1a1a1a" stroke-width="1"/>
<text x="412.30" y="510.60" font-size="8.4" text-anchor="middle" fill="#1a1a1a" stroke="#1a1a1a" stroke-width="0.12">14</text>
<line x1="433.50" y1="497.40" x2="433.50" y2="499.80" stroke="#1a1a1a" stroke-width="1"/>
<text x="433.40" y="510.60" font-size="8.4" text-anchor="middle" fill="#1a1a1a" stroke="#1a1a1a" stroke-width="0.12">16</text>
<line x1="454.50" y1="497.40" x2="454.50" y2="499.80" stroke="#1a1a1a" stroke-width="1"/>
<text x="454.50" y="510.60" font-size="8.4" text-anchor="middle" fill="#1a1a1a" stroke="#1a1a1a" stroke-width="0.12">18</text>
<text x="403.40" y="524.70" font-size="10" text-anchor="middle" fill="#1a1a1a" stroke="#1a1a1a" stroke-width="0.3" textLength="13.00" lengthAdjust="spacingAndGlyphs">Day</text>
<text x="332.50" y="458.00" font-size="10" text-anchor="middle" fill="#1a1a1a" stroke="#1a1a1a" stroke-width="0.3" textLength="74.00" lengthAdjust="spacingAndGlyphs" transform="rotate(-90 332.50 458.00)">Tumor volume (cm<tspan font-size="7" dy="-3.6">3</tspan><tspan dy="3.6">)</tspan></text>
<line x1="433.50" y1="475.20" x2="433.50" y2="477.80" stroke="#2e4c7e" stroke-width="1.0"/>
<line x1="432.00" y1="475.50" x2="434.80" y2="475.50" stroke="#2e4c7e" stroke-width="1.0"/>
<line x1="443.50" y1="460.10" x2="443.50" y2="463.40" stroke="#2e4c7e" stroke-width="1.0"/>
<line x1="442.55" y1="460.50" x2="445.35" y2="460.50" stroke="#2e4c7e" stroke-width="1.0"/>
<line x1="454.50" y1="440.20" x2="454.50" y2="447.20" stroke="#2e4c7e" stroke-width="1.0"/>
<line x1="453.10" y1="440.50" x2="455.90" y2="440.50" stroke="#2e4c7e" stroke-width="1.0"/>
<line x1="443.50" y1="476.60" x2="443.50" y2="480.40" stroke="#a3002a" stroke-width="1.0"/>
<line x1="442.55" y1="476.50" x2="445.35" y2="476.50" stroke="#a3002a" stroke-width="1.0"/>
<line x1="454.50" y1="472.60" x2="454.50" y2="476.90" stroke="#a3002a" stroke-width="1.0"/>
<line x1="453.10" y1="472.50" x2="455.90" y2="472.50" stroke="#a3002a" stroke-width="1.0"/>
<polyline points="349.00,497.4 370.10,496.6 380.65,495.9 391.20,494.6 401.75,493.4 412.30,492.5 422.85,489.9 433.40,488.5 443.95,480.4 454.50,476.9" fill="none" stroke="#a3002a" stroke-width="1.5"/>
<polyline points="349.00,497.4 370.10,496.3 380.65,495.3 391.20,494.2 401.75,490.4 412.30,489 422.85,484.2 433.40,477.8 443.95,463.4 454.50,447.2" fill="none" stroke="#2e4c7e" stroke-width="1.5"/>
<rect x="347.70" y="496.10" width="2.6" height="2.6" fill="#a3002a"/>
<rect x="368.80" y="495.30" width="2.6" height="2.6" fill="#a3002a"/>
<rect x="379.35" y="494.60" width="2.6" height="2.6" fill="#a3002a"/>
<rect x="389.90" y="493.30" width="2.6" height="2.6" fill="#a3002a"/>
<rect x="400.45" y="492.10" width="2.6" height="2.6" fill="#a3002a"/>
<rect x="411.00" y="491.20" width="2.6" height="2.6" fill="#a3002a"/>
<rect x="421.55" y="488.60" width="2.6" height="2.6" fill="#a3002a"/>
<rect x="432.10" y="487.20" width="2.6" height="2.6" fill="#a3002a"/>
<rect x="442.65" y="479.10" width="2.6" height="2.6" fill="#a3002a"/>
<rect x="453.20" y="475.60" width="2.6" height="2.6" fill="#a3002a"/>
<circle cx="349.00" cy="497.40" r="1.4" fill="#2e4c7e"/>
<circle cx="370.10" cy="496.30" r="1.4" fill="#2e4c7e"/>
<circle cx="380.65" cy="495.30" r="1.4" fill="#2e4c7e"/>
<circle cx="391.20" cy="494.20" r="1.4" fill="#2e4c7e"/>
<circle cx="401.75" cy="490.40" r="1.4" fill="#2e4c7e"/>
<circle cx="412.30" cy="489.00" r="1.4" fill="#2e4c7e"/>
<circle cx="422.85" cy="484.20" r="1.4" fill="#2e4c7e"/>
<circle cx="433.40" cy="477.80" r="1.4" fill="#2e4c7e"/>
<circle cx="443.95" cy="463.40" r="1.4" fill="#2e4c7e"/>
<circle cx="454.50" cy="447.20" r="1.4" fill="#2e4c7e"/>
<text x="433.85" y="474.10" font-size="7" text-anchor="middle" fill="#1a1a1a" stroke="#1a1a1a" stroke-width="0.4" letter-spacing="0.9">*</text>
<text x="440.85" y="459.40" font-size="7" text-anchor="middle" fill="#1a1a1a" stroke="#1a1a1a" stroke-width="0.4" letter-spacing="0.9">***</text>
<text x="454.45" y="439.40" font-size="7" text-anchor="middle" fill="#1a1a1a" stroke="#1a1a1a" stroke-width="0.4" letter-spacing="0.9">****</text>
<line x1="351.20" y1="422.70" x2="359.20" y2="422.70" stroke="#2e4c7e" stroke-width="1.5"/>
<circle cx="355.70" cy="422.50" r="1.4" fill="#2e4c7e"/>
<line x1="351.20" y1="435.40" x2="359.20" y2="435.40" stroke="#a3002a" stroke-width="1.5"/>
<rect x="354.40" y="433.90" width="2.6" height="2.6" fill="#a3002a"/>
<text x="362.50" y="425.30" font-size="8.4" fill="#1a1a1a" stroke="#1a1a1a" stroke-width="0.12"><tspan font-style="italic">Crbn</tspan><tspan font-size="5.88" dy="-3.53">+/+</tspan><tspan dy="3.53"></tspan></text>
<text x="362.50" y="437.60" font-size="8.4" fill="#1a1a1a" stroke="#1a1a1a" stroke-width="0.12"><tspan font-style="italic">Crbn</tspan><tspan font-size="5.88" dy="-3.53">-/-</tspan><tspan dy="3.53"></tspan></text>
<text x="7.60" y="589.00" font-size="12.4" font-weight="bold" fill="#000">I</text>
<text x="80.00" y="590.10" font-size="9.2" text-anchor="middle" fill="#1a1a1a" stroke="#1a1a1a" stroke-width="0.12" textLength="35.50" lengthAdjust="spacingAndGlyphs"><tspan font-style="italic">Crbn</tspan><tspan font-size="6.44" dy="-3.86">+/+</tspan><tspan dy="3.86"></tspan></text>
<text x="165.20" y="589.80" font-size="9.2" text-anchor="middle" fill="#1a1a1a" stroke="#1a1a1a" stroke-width="0.12" textLength="30.60" lengthAdjust="spacingAndGlyphs"><tspan font-style="italic">Crbn</tspan><tspan font-size="6.44" dy="-3.86">-/-</tspan><tspan dy="3.86"></tspan></text>
<text x="45.00" y="600.60" font-size="8.2" fill="#1a1a1a" stroke="#1a1a1a" stroke-width="0.12">7.14</text>
<text x="114.30" y="600.60" font-size="8.2" text-anchor="end" fill="#1a1a1a" stroke="#1a1a1a" stroke-width="0.12">20.5</text>
<text x="45.00" y="663.40" font-size="8.2" fill="#1a1a1a" stroke="#1a1a1a" stroke-width="0.12">30.4</text>
<text x="114.30" y="663.40" font-size="8.2" text-anchor="end" fill="#1a1a1a" stroke="#1a1a1a" stroke-width="0.12">42</text>
<text x="130.30" y="600.60" font-size="8.2" fill="#1a1a1a" stroke="#1a1a1a" stroke-width="0.12">1.44</text>
<text x="199.50" y="600.60" font-size="8.2" text-anchor="end" fill="#1a1a1a" stroke="#1a1a1a" stroke-width="0.12">48.1</text>
<text x="130.30" y="663.20" font-size="8.2" fill="#1a1a1a" stroke="#1a1a1a" stroke-width="0.12">3.35</text>
<text x="199.50" y="663.20" font-size="8.2" text-anchor="end" fill="#1a1a1a" stroke="#1a1a1a" stroke-width="0.12">47.3</text>
<g><path d="M53.4,645.6 C56,642 60,640 61.5,638.8 C63.5,637 64,635 63.8,633 C62.5,630 62.5,627.5 64.5,626 C67,624.5 72,624.5 75,626.5 C76.5,627.5 77.5,628.5 78.3,629.5 C79.5,626 81,621 83.5,617.5 C85.5,615 88,614.3 90.5,615.5 C93.5,617 94.5,622 94.8,627 C95.2,631 96.8,633 96.6,636 C96.4,640 95.8,645 94.2,649.5 C92.5,652.5 88,652.7 83,652.5 C76,652.2 70,651.3 64,652 C60,652.7 56.5,653 54.5,650.5 C53,648.8 52.6,647 53.4,645.6 Z" fill="#cbcbcb" stroke="#858585" stroke-width="0.5"/><ellipse cx="70.5" cy="630" rx="6.8" ry="3.9" fill="#ececec" stroke="#9a9a9a" stroke-width="0.5"/><ellipse cx="69.6" cy="630.2" rx="4.4" ry="2.4" fill="#f2f2f2" stroke="#9a9a9a" stroke-width="0.5"/><ellipse cx="68.8" cy="630.2" rx="2.1" ry="1.1" fill="#f8f8f8" stroke="#999" stroke-width="0.5"/><path d="M56,647 C58,644.5 62,642.5 66,641.5 C70,640.5 74,640 78,639.5 C80,636 80.5,630 82,624 C83.5,619.5 86,617.5 89,618 C92,619 92.8,624 93,628.5 C93.2,632 94.8,635 94.6,638.5 C94.4,642.5 94,646.5 92.5,649.5 C90,651.2 85,651 80,650.7 C74,650.3 68,650 63,650.5 C59.5,650.8 56.5,650 56,647 Z" fill="#b9b9b9" stroke="#777" stroke-width="0.5"/><path d="M60,647 C63,645 67,644 71,643.3 C74,642.8 77,642.3 79.5,641.8 C81.5,638 82,631 83.5,625.5 C85,621 87,619.8 89,620.2 C91.2,621 91.6,625 91.6,629 C91.6,633 93.2,636 93.2,639.5 C93.2,643 92.8,646.5 91.2,648.5 C89,650 85,649.8 80.5,649.5 C74,649 68,648.8 63.5,649.2 C61.5,649.3 60,648.5 60,647 Z" fill="#aaaaaa" stroke="#666" stroke-width="0.5"/><path d="M64,646.8 C68,645.6 73,645 78,644.6 L79,647.6 C74,647.8 68,647.8 64,646.8 Z" fill="#e6e6e6"/><path d="M79,641.5 C81,639.5 83.5,637.5 84.3,634 L89.3,634 C90.5,636 92.5,638 93.6,641 C94.6,645 94.2,649 91.5,650.8 C87,651.8 82,651.2 79.2,649.6 C77.8,648.6 78,643 79,641.5 Z" fill="#ababab"/><path d="M84.3,633.8 C83.9,629 84.5,625.5 85.9,623.4 C87,621.9 88.7,621.9 89.5,623.4 C90.4,625.4 90.1,629.6 89.4,633.8 C88.8,635.5 85,635.5 84.3,633.8 Z" fill="#efefef" stroke="#2a2a2a" stroke-width="1.1"/><path d="M89.2,637.0 C91,638 92.7,640 93.2,643 C93.8,646.5 93,649.3 90.6,650.1 C87,650.9 82,650.3 79.5,648.9 C78.3,648.1 78.3,645 79.2,643.5 C79.9,642.2 80.9,641.6 81.8,641.3" fill="#c2c2c2" stroke="#1c1c1c" stroke-width="1.45"/><ellipse cx="88" cy="645.2" rx="3.3" ry="3" fill="#fbfbfb"/><ellipse cx="83.4" cy="646" rx="2.4" ry="1.4" fill="#e2e2e2"/><path d="M86.2,627 L87.6,627 M86.4,629.5 L87.8,629.5 M86.6,632 L88,632" stroke="#fff" stroke-width="1"/></g>
<g><path d="M171,613 C176,611.5 180,613 183,617 C185.5,620 185.8,627 184.5,631 C183,635 183.5,640 183.3,645 C183,651 179,655.5 173,655.3 C167.5,655 164.5,650 164.4,644 C164.3,636 164.3,628 164.6,621 C165,616 167,613.5 171,613 Z" transform="translate(174.2 634) scale(1.0 1.0) translate(-174.2 -634)" fill="#d6d6d6" stroke="#8e8e8e" stroke-width="0.50"/><path d="M171,613 C176,611.5 180,613 183,617 C185.5,620 185.8,627 184.5,631 C183,635 183.5,640 183.3,645 C183,651 179,655.5 173,655.3 C167.5,655 164.5,650 164.4,644 C164.3,636 164.3,628 164.6,621 C165,616 167,613.5 171,613 Z" transform="translate(174.2 634) scale(0.91 0.9400000000000001) translate(-174.2 -634)" fill="#cacaca" stroke="#858585" stroke-width="0.56"/><path d="M171,613 C176,611.5 180,613 183,617 C185.5,620 185.8,627 184.5,631 C183,635 183.5,640 183.3,645 C183,651 179,655.5 173,655.3 C167.5,655 164.5,650 164.4,644 C164.3,636 164.3,628 164.6,621 C165,616 167,613.5 171,613 Z" transform="translate(174.2 634) scale(0.8200000000000001 0.88) translate(-174.2 -634)" fill="#bebebe" stroke="#7a7a7a" stroke-width="0.62"/><path d="M171,613 C176,611.5 180,613 183,617 C185.5,620 185.8,627 184.5,631 C183,635 183.5,640 183.3,645 C183,651 179,655.5 173,655.3 C167.5,655 164.5,650 164.4,644 C164.3,636 164.3,628 164.6,621 C165,616 167,613.5 171,613 Z" transform="translate(174.2 634) scale(0.73 0.8200000000000001) translate(-174.2 -634)" fill="#b2b2b2" stroke="#6e6e6e" stroke-width="0.71"/><path d="M171,613 C176,611.5 180,613 183,617 C185.5,620 185.8,627 184.5,631 C183,635 183.5,640 183.3,645 C183,651 179,655.5 173,655.3 C167.5,655 164.5,650 164.4,644 C164.3,636 164.3,628 164.6,621 C165,616 167,613.5 171,613 Z" transform="translate(174.2 634) scale(0.64 0.76) translate(-174.2 -634)" fill="#a6a6a6" stroke="#606060" stroke-width="0.83"/><path d="M171,613 C176,611.5 180,613 183,617 C185.5,620 185.8,627 184.5,631 C183,635 183.5,640 183.3,645 C183,651 179,655.5 173,655.3 C167.5,655 164.5,650 164.4,644 C164.3,636 164.3,628 164.6,621 C165,616 167,613.5 171,613 Z" transform="translate(174.2 634) scale(0.55 0.7) translate(-174.2 -634)" fill="#9c9c9c" stroke="#555" stroke-width="1.00"/><ellipse cx="173.1" cy="625.4" rx="3.6" ry="6.8" fill="#8c8c8c" stroke="#555" stroke-width="0.6"/><ellipse cx="172.7" cy="642" rx="3.7" ry="7" fill="#8a8a8a" stroke="#505050" stroke-width="0.6"/><ellipse cx="173.1" cy="625.2" rx="2.3" ry="4.8" fill="#777" /><ellipse cx="172.5" cy="642.2" rx="2.5" ry="5.2" fill="#727272" /><ellipse cx="173.1" cy="624.8" rx="1.1" ry="3" fill="#e8e8e8"/><ellipse cx="172.2" cy="642.3" rx="1.5" ry="3.8" fill="#fff"/></g>
<rect x="43.4" y="592.5" width="72.30000000000001" height="72.5" fill="none" stroke="#222" stroke-width="1.3"/>
<line x1="78.50" y1="592.50" x2="78.50" y2="665.00" stroke="#2a2a2a" stroke-width="1.0"/>
<line x1="43.40" y1="634.50" x2="115.70" y2="634.50" stroke="#2a2a2a" stroke-width="1.0"/>
<line x1="40.80" y1="599.40" x2="43.40" y2="599.40" stroke="#333" stroke-width="0.7"/>
<line x1="40.80" y1="616.80" x2="43.40" y2="616.80" stroke="#333" stroke-width="0.7"/>
<line x1="40.80" y1="636.00" x2="43.40" y2="636.00" stroke="#333" stroke-width="0.7"/>
<line x1="40.80" y1="660.00" x2="43.40" y2="660.00" stroke="#333" stroke-width="0.7"/>
<line x1="42.00" y1="611.58" x2="43.40" y2="611.58" stroke="#555" stroke-width="0.45"/>
<line x1="42.00" y1="608.45" x2="43.40" y2="608.45" stroke="#555" stroke-width="0.45"/>
<line x1="42.00" y1="606.36" x2="43.40" y2="606.36" stroke="#555" stroke-width="0.45"/>
<line x1="42.00" y1="604.62" x2="43.40" y2="604.62" stroke="#555" stroke-width="0.45"/>
<line x1="42.00" y1="603.23" x2="43.40" y2="603.23" stroke="#555" stroke-width="0.45"/>
<line x1="42.00" y1="602.01" x2="43.40" y2="602.01" stroke="#555" stroke-width="0.45"/>
<line x1="42.00" y1="601.14" x2="43.40" y2="601.14" stroke="#555" stroke-width="0.45"/>
<line x1="42.00" y1="600.27" x2="43.40" y2="600.27" stroke="#555" stroke-width="0.45"/>
<line x1="42.00" y1="630.24" x2="43.40" y2="630.24" stroke="#555" stroke-width="0.45"/>
<line x1="42.00" y1="626.78" x2="43.40" y2="626.78" stroke="#555" stroke-width="0.45"/>
<line x1="42.00" y1="624.48" x2="43.40" y2="624.48" stroke="#555" stroke-width="0.45"/>
<line x1="42.00" y1="622.56" x2="43.40" y2="622.56" stroke="#555" stroke-width="0.45"/>
<line x1="42.00" y1="621.02" x2="43.40" y2="621.02" stroke="#555" stroke-width="0.45"/>
<line x1="42.00" y1="619.68" x2="43.40" y2="619.68" stroke="#555" stroke-width="0.45"/>
<line x1="42.00" y1="618.72" x2="43.40" y2="618.72" stroke="#555" stroke-width="0.45"/>
<line x1="42.00" y1="617.76" x2="43.40" y2="617.76" stroke="#555" stroke-width="0.45"/>
<line x1="42.00" y1="652.80" x2="43.40" y2="652.80" stroke="#555" stroke-width="0.45"/>
<line x1="42.00" y1="648.48" x2="43.40" y2="648.48" stroke="#555" stroke-width="0.45"/>
<line x1="42.00" y1="645.60" x2="43.40" y2="645.60" stroke="#555" stroke-width="0.45"/>
<line x1="42.00" y1="643.20" x2="43.40" y2="643.20" stroke="#555" stroke-width="0.45"/>
<line x1="42.00" y1="641.28" x2="43.40" y2="641.28" stroke="#555" stroke-width="0.45"/>
<line x1="42.00" y1="639.60" x2="43.40" y2="639.60" stroke="#555" stroke-width="0.45"/>
<line x1="42.00" y1="638.40" x2="43.40" y2="638.40" stroke="#555" stroke-width="0.45"/>
<line x1="42.00" y1="637.20" x2="43.40" y2="637.20" stroke="#555" stroke-width="0.45"/>
<rect x="40.80" y="646.80" width="2.20" height="2.60" fill="#222"/>
<line x1="49.40" y1="665.00" x2="49.40" y2="667.40" stroke="#333" stroke-width="0.7"/>
<line x1="63.40" y1="665.00" x2="63.40" y2="667.40" stroke="#333" stroke-width="0.7"/>
<line x1="79.40" y1="665.00" x2="79.40" y2="667.40" stroke="#333" stroke-width="0.7"/>
<line x1="95.40" y1="665.00" x2="95.40" y2="667.40" stroke="#333" stroke-width="0.7"/>
<line x1="111.40" y1="665.00" x2="111.40" y2="667.40" stroke="#333" stroke-width="0.7"/>
<line x1="46.40" y1="665.00" x2="46.40" y2="666.30" stroke="#555" stroke-width="0.45"/>
<line x1="50.20" y1="665.00" x2="50.20" y2="666.30" stroke="#555" stroke-width="0.45"/>
<line x1="54.00" y1="665.00" x2="54.00" y2="666.30" stroke="#555" stroke-width="0.45"/>
<line x1="57.80" y1="665.00" x2="57.80" y2="666.30" stroke="#555" stroke-width="0.45"/>
<line x1="61.60" y1="665.00" x2="61.60" y2="666.30" stroke="#555" stroke-width="0.45"/>
<line x1="65.40" y1="665.00" x2="65.40" y2="666.30" stroke="#555" stroke-width="0.45"/>
<line x1="69.20" y1="665.00" x2="69.20" y2="666.30" stroke="#555" stroke-width="0.45"/>
<line x1="73.00" y1="665.00" x2="73.00" y2="666.30" stroke="#555" stroke-width="0.45"/>
<line x1="76.80" y1="665.00" x2="76.80" y2="666.30" stroke="#555" stroke-width="0.45"/>
<line x1="80.60" y1="665.00" x2="80.60" y2="666.30" stroke="#555" stroke-width="0.45"/>
<line x1="84.40" y1="665.00" x2="84.40" y2="666.30" stroke="#555" stroke-width="0.45"/>
<line x1="88.20" y1="665.00" x2="88.20" y2="666.30" stroke="#555" stroke-width="0.45"/>
<line x1="92.00" y1="665.00" x2="92.00" y2="666.30" stroke="#555" stroke-width="0.45"/>
<line x1="95.80" y1="665.00" x2="95.80" y2="666.30" stroke="#555" stroke-width="0.45"/>
<line x1="99.60" y1="665.00" x2="99.60" y2="666.30" stroke="#555" stroke-width="0.45"/>
<line x1="103.40" y1="665.00" x2="103.40" y2="666.30" stroke="#555" stroke-width="0.45"/>
<line x1="107.20" y1="665.00" x2="107.20" y2="666.30" stroke="#555" stroke-width="0.45"/>
<line x1="111.00" y1="665.00" x2="111.00" y2="666.30" stroke="#555" stroke-width="0.45"/>
<rect x="58.70" y="665.40" width="2.20" height="1.80" fill="#222"/>
<rect x="128.6" y="592.5" width="72.4" height="72.5" fill="none" stroke="#222" stroke-width="1.3"/>
<line x1="163.50" y1="592.50" x2="163.50" y2="665.00" stroke="#2a2a2a" stroke-width="1.0"/>
<line x1="128.60" y1="634.50" x2="201.00" y2="634.50" stroke="#2a2a2a" stroke-width="1.0"/>
<line x1="126.00" y1="599.40" x2="128.60" y2="599.40" stroke="#333" stroke-width="0.7"/>
<line x1="126.00" y1="616.80" x2="128.60" y2="616.80" stroke="#333" stroke-width="0.7"/>
<line x1="126.00" y1="636.00" x2="128.60" y2="636.00" stroke="#333" stroke-width="0.7"/>
<line x1="126.00" y1="660.00" x2="128.60" y2="660.00" stroke="#333" stroke-width="0.7"/>
<line x1="127.20" y1="611.58" x2="128.60" y2="611.58" stroke="#555" stroke-width="0.45"/>
<line x1="127.20" y1="608.45" x2="128.60" y2="608.45" stroke="#555" stroke-width="0.45"/>
<line x1="127.20" y1="606.36" x2="128.60" y2="606.36" stroke="#555" stroke-width="0.45"/>
<line x1="127.20" y1="604.62" x2="128.60" y2="604.62" stroke="#555" stroke-width="0.45"/>
<line x1="127.20" y1="603.23" x2="128.60" y2="603.23" stroke="#555" stroke-width="0.45"/>
<line x1="127.20" y1="602.01" x2="128.60" y2="602.01" stroke="#555" stroke-width="0.45"/>
<line x1="127.20" y1="601.14" x2="128.60" y2="601.14" stroke="#555" stroke-width="0.45"/>
<line x1="127.20" y1="600.27" x2="128.60" y2="600.27" stroke="#555" stroke-width="0.45"/>
<line x1="127.20" y1="630.24" x2="128.60" y2="630.24" stroke="#555" stroke-width="0.45"/>
<line x1="127.20" y1="626.78" x2="128.60" y2="626.78" stroke="#555" stroke-width="0.45"/>
<line x1="127.20" y1="624.48" x2="128.60" y2="624.48" stroke="#555" stroke-width="0.45"/>
<line x1="127.20" y1="622.56" x2="128.60" y2="622.56" stroke="#555" stroke-width="0.45"/>
<line x1="127.20" y1="621.02" x2="128.60" y2="621.02" stroke="#555" stroke-width="0.45"/>
<line x1="127.20" y1="619.68" x2="128.60" y2="619.68" stroke="#555" stroke-width="0.45"/>
<line x1="127.20" y1="618.72" x2="128.60" y2="618.72" stroke="#555" stroke-width="0.45"/>
<line x1="127.20" y1="617.76" x2="128.60" y2="617.76" stroke="#555" stroke-width="0.45"/>
<line x1="127.20" y1="652.80" x2="128.60" y2="652.80" stroke="#555" stroke-width="0.45"/>
<line x1="127.20" y1="648.48" x2="128.60" y2="648.48" stroke="#555" stroke-width="0.45"/>
<line x1="127.20" y1="645.60" x2="128.60" y2="645.60" stroke="#555" stroke-width="0.45"/>
<line x1="127.20" y1="643.20" x2="128.60" y2="643.20" stroke="#555" stroke-width="0.45"/>
<line x1="127.20" y1="641.28" x2="128.60" y2="641.28" stroke="#555" stroke-width="0.45"/>
<line x1="127.20" y1="639.60" x2="128.60" y2="639.60" stroke="#555" stroke-width="0.45"/>
<line x1="127.20" y1="638.40" x2="128.60" y2="638.40" stroke="#555" stroke-width="0.45"/>
<line x1="127.20" y1="637.20" x2="128.60" y2="637.20" stroke="#555" stroke-width="0.45"/>
<rect x="126.00" y="646.80" width="2.20" height="2.60" fill="#222"/>
<line x1="134.60" y1="665.00" x2="134.60" y2="667.40" stroke="#333" stroke-width="0.7"/>
<line x1="148.60" y1="665.00" x2="148.60" y2="667.40" stroke="#333" stroke-width="0.7"/>
<line x1="164.60" y1="665.00" x2="164.60" y2="667.40" stroke="#333" stroke-width="0.7"/>
<line x1="180.60" y1="665.00" x2="180.60" y2="667.40" stroke="#333" stroke-width="0.7"/>
<line x1="196.60" y1="665.00" x2="196.60" y2="667.40" stroke="#333" stroke-width="0.7"/>
<line x1="131.60" y1="665.00" x2="131.60" y2="666.30" stroke="#555" stroke-width="0.45"/>
<line x1="135.40" y1="665.00" x2="135.40" y2="666.30" stroke="#555" stroke-width="0.45"/>
<line x1="139.20" y1="665.00" x2="139.20" y2="666.30" stroke="#555" stroke-width="0.45"/>
<line x1="143.00" y1="665.00" x2="143.00" y2="666.30" stroke="#555" stroke-width="0.45"/>
<line x1="146.80" y1="665.00" x2="146.80" y2="666.30" stroke="#555" stroke-width="0.45"/>
<line x1="150.60" y1="665.00" x2="150.60" y2="666.30" stroke="#555" stroke-width="0.45"/>
<line x1="154.40" y1="665.00" x2="154.40" y2="666.30" stroke="#555" stroke-width="0.45"/>
<line x1="158.20" y1="665.00" x2="158.20" y2="666.30" stroke="#555" stroke-width="0.45"/>
<line x1="162.00" y1="665.00" x2="162.00" y2="666.30" stroke="#555" stroke-width="0.45"/>
<line x1="165.80" y1="665.00" x2="165.80" y2="666.30" stroke="#555" stroke-width="0.45"/>
<line x1="169.60" y1="665.00" x2="169.60" y2="666.30" stroke="#555" stroke-width="0.45"/>
<line x1="173.40" y1="665.00" x2="173.40" y2="666.30" stroke="#555" stroke-width="0.45"/>
<line x1="177.20" y1="665.00" x2="177.20" y2="666.30" stroke="#555" stroke-width="0.45"/>
<line x1="181.00" y1="665.00" x2="181.00" y2="666.30" stroke="#555" stroke-width="0.45"/>
<line x1="184.80" y1="665.00" x2="184.80" y2="666.30" stroke="#555" stroke-width="0.45"/>
<line x1="188.60" y1="665.00" x2="188.60" y2="666.30" stroke="#555" stroke-width="0.45"/>
<line x1="192.40" y1="665.00" x2="192.40" y2="666.30" stroke="#555" stroke-width="0.45"/>
<line x1="196.20" y1="665.00" x2="196.20" y2="666.30" stroke="#555" stroke-width="0.45"/>
<rect x="143.90" y="665.40" width="2.20" height="1.80" fill="#222"/>
<line x1="34.50" y1="673.80" x2="34.50" y2="638.50" stroke="#000" stroke-width="1.0"/>
<path d="M34.3,636.5 L32.2,641.5 L36.4,641.5 Z" fill="#000"/>
<line x1="34.30" y1="673.50" x2="70.50" y2="673.50" stroke="#000" stroke-width="1.0"/>
<path d="M72.5,673.8 L67.5,671.7 L67.5,675.9 Z" fill="#000"/>
<text x="28.50" y="660.70" font-size="10" text-anchor="middle" fill="#1a1a1a" stroke="#1a1a1a" stroke-width="0.3" textLength="14.40" lengthAdjust="spacingAndGlyphs" transform="rotate(-90 28.50 660.70)">Trp2</text>
<text x="50.30" y="686.00" font-size="10" text-anchor="middle" fill="#1a1a1a" stroke="#1a1a1a" stroke-width="0.3" textLength="19.20" lengthAdjust="spacingAndGlyphs">CD44</text>
<text x="217.20" y="589.00" font-size="12.6" font-weight="bold" fill="#000">J</text>
<line x1="272.50" y1="580.00" x2="272.50" y2="663.00" stroke="#1a1a1a" stroke-width="1.1"/>
<line x1="269.70" y1="662.50" x2="272.30" y2="662.50" stroke="#1a1a1a" stroke-width="1"/>
<text x="268.00" y="665.40" font-size="8.2" text-anchor="end" fill="#1a1a1a" stroke="#1a1a1a" stroke-width="0.12">0</text>
<line x1="269.70" y1="646.50" x2="272.30" y2="646.50" stroke="#1a1a1a" stroke-width="1"/>
<text x="268.00" y="649.50" font-size="8.2" text-anchor="end" fill="#1a1a1a" stroke="#1a1a1a" stroke-width="0.12">10</text>
<line x1="269.70" y1="630.50" x2="272.30" y2="630.50" stroke="#1a1a1a" stroke-width="1"/>
<text x="268.00" y="633.60" font-size="8.2" text-anchor="end" fill="#1a1a1a" stroke="#1a1a1a" stroke-width="0.12">20</text>
<line x1="269.70" y1="614.50" x2="272.30" y2="614.50" stroke="#1a1a1a" stroke-width="1"/>
<text x="268.00" y="617.70" font-size="8.2" text-anchor="end" fill="#1a1a1a" stroke="#1a1a1a" stroke-width="0.12">30</text>
<line x1="269.70" y1="598.50" x2="272.30" y2="598.50" stroke="#1a1a1a" stroke-width="1"/>
<text x="268.00" y="601.80" font-size="8.2" text-anchor="end" fill="#1a1a1a" stroke="#1a1a1a" stroke-width="0.12">40</text>
<line x1="269.70" y1="583.50" x2="272.30" y2="583.50" stroke="#1a1a1a" stroke-width="1"/>
<text x="268.00" y="585.90" font-size="8.2" text-anchor="end" fill="#1a1a1a" stroke="#1a1a1a" stroke-width="0.12">50</text>
<line x1="271.80" y1="662.50" x2="334.50" y2="662.50" stroke="#1a1a1a" stroke-width="1.1"/>
<line x1="286.50" y1="662.50" x2="286.50" y2="664.90" stroke="#1a1a1a" stroke-width="1"/>
<line x1="320.50" y1="662.50" x2="320.50" y2="664.90" stroke="#1a1a1a" stroke-width="1"/>
<text x="286.30" y="675.20" font-size="8.4" text-anchor="middle" fill="#1a1a1a" stroke="#1a1a1a" stroke-width="0.12" textLength="28.50" lengthAdjust="spacingAndGlyphs"><tspan font-style="italic">Crbn</tspan><tspan font-size="5.88" dy="-3.53">+/+</tspan><tspan dy="3.53"></tspan></text>
<text x="320.00" y="675.20" font-size="8.4" text-anchor="middle" fill="#1a1a1a" stroke="#1a1a1a" stroke-width="0.12" textLength="25.00" lengthAdjust="spacingAndGlyphs"><tspan font-style="italic">Crbn</tspan><tspan font-size="5.88" dy="-3.53">-/-</tspan><tspan dy="3.53"></tspan></text>
<text x="238.70" y="621.50" font-size="10" text-anchor="middle" fill="#1a1a1a" stroke="#1a1a1a" stroke-width="0.3" textLength="54.00" lengthAdjust="spacingAndGlyphs" transform="rotate(-90 238.70 621.50)">% CD44<tspan font-size="7" dy="-3.6">+</tspan><tspan dy="3.6"> Trp2</tspan><tspan font-size="7" dy="-3.6">+</tspan><tspan dy="3.6"></tspan></text>
<text x="250.70" y="621.40" font-size="10" text-anchor="middle" fill="#1a1a1a" stroke="#1a1a1a" stroke-width="0.3" textLength="44.00" lengthAdjust="spacingAndGlyphs" transform="rotate(-90 250.70 621.40)">(of CD8<tspan font-size="7" dy="-3.6">+</tspan><tspan dy="3.6"> TIL)</tspan></text>
<circle cx="286.30" cy="601.30" r="1.6" fill="#2e4c7e"/>
<circle cx="286.30" cy="625.50" r="1.6" fill="#2e4c7e"/>
<circle cx="286.30" cy="632.50" r="1.6" fill="#2e4c7e"/>
<circle cx="286.30" cy="642.50" r="1.6" fill="#2e4c7e"/>
<circle cx="286.30" cy="657.50" r="1.6" fill="#2e4c7e"/>
<circle cx="286.30" cy="662.30" r="1.6" fill="#2e4c7e"/>
<line x1="286.50" y1="627.50" x2="286.50" y2="645.80" stroke="#1a1a1a" stroke-width="1.1"/>
<line x1="283.00" y1="627.50" x2="289.60" y2="627.50" stroke="#1a1a1a" stroke-width="1.1"/>
<line x1="283.00" y1="645.50" x2="289.60" y2="645.50" stroke="#1a1a1a" stroke-width="1.1"/>
<line x1="279.50" y1="637.50" x2="293.10" y2="637.50" stroke="#1a1a1a" stroke-width="1.1"/>
<rect x="318.50" y="578.70" width="3.0" height="3.0" fill="#a3002a"/>
<rect x="318.50" y="586.50" width="3.0" height="3.0" fill="#a3002a"/>
<rect x="318.50" y="594.30" width="3.0" height="3.0" fill="#a3002a"/>
<rect x="318.50" y="613.30" width="3.0" height="3.0" fill="#a3002a"/>
<rect x="318.50" y="614.10" width="3.0" height="3.0" fill="#a3002a"/>
<rect x="318.50" y="628.80" width="3.0" height="3.0" fill="#a3002a"/>
<rect x="316.10" y="613.70" width="3.0" height="3.0" fill="#a3002a"/>
<rect x="320.90" y="613.70" width="3.0" height="3.0" fill="#a3002a"/>
<line x1="320.50" y1="601.30" x2="320.50" y2="616.30" stroke="#1a1a1a" stroke-width="1.1"/>
<line x1="316.70" y1="601.50" x2="323.30" y2="601.50" stroke="#1a1a1a" stroke-width="1.1"/>
<line x1="316.70" y1="616.50" x2="323.30" y2="616.50" stroke="#1a1a1a" stroke-width="1.1"/>
<line x1="313.20" y1="608.50" x2="326.80" y2="608.50" stroke="#1a1a1a" stroke-width="1.1"/>
<text x="351.20" y="589.40" font-size="12.6" font-weight="bold" fill="#000">K</text>
<line x1="401.50" y1="583.50" x2="401.50" y2="663.00" stroke="#1a1a1a" stroke-width="1.1"/>
<line x1="398.90" y1="662.50" x2="401.50" y2="662.50" stroke="#1a1a1a" stroke-width="1"/>
<text x="396.00" y="665.40" font-size="8.2" text-anchor="end" fill="#1a1a1a" stroke="#1a1a1a" stroke-width="0.12">0</text>
<line x1="398.90" y1="643.50" x2="401.50" y2="643.50" stroke="#1a1a1a" stroke-width="1"/>
<text x="396.00" y="646.32" font-size="8.2" text-anchor="end" fill="#1a1a1a" stroke="#1a1a1a" stroke-width="0.12">100</text>
<line x1="398.90" y1="624.50" x2="401.50" y2="624.50" stroke="#1a1a1a" stroke-width="1"/>
<text x="396.00" y="627.24" font-size="8.2" text-anchor="end" fill="#1a1a1a" stroke="#1a1a1a" stroke-width="0.12">200</text>
<line x1="398.90" y1="605.50" x2="401.50" y2="605.50" stroke="#1a1a1a" stroke-width="1"/>
<text x="396.00" y="608.16" font-size="8.2" text-anchor="end" fill="#1a1a1a" stroke="#1a1a1a" stroke-width="0.12">300</text>
<line x1="398.90" y1="586.50" x2="401.50" y2="586.50" stroke="#1a1a1a" stroke-width="1"/>
<text x="396.00" y="589.08" font-size="8.2" text-anchor="end" fill="#1a1a1a" stroke="#1a1a1a" stroke-width="0.12">400</text>
<line x1="401.00" y1="662.50" x2="512.00" y2="662.50" stroke="#1a1a1a" stroke-width="1.1"/>
<line x1="401.50" y1="662.50" x2="401.50" y2="664.90" stroke="#1a1a1a" stroke-width="1"/>
<text x="401.50" y="676.60" font-size="8.4" text-anchor="middle" fill="#1a1a1a" stroke="#1a1a1a" stroke-width="0.12">0</text>
<line x1="432.50" y1="662.50" x2="432.50" y2="664.90" stroke="#1a1a1a" stroke-width="1"/>
<text x="432.00" y="676.60" font-size="8.4" text-anchor="middle" fill="#1a1a1a" stroke="#1a1a1a" stroke-width="0.12">5</text>
<line x1="462.50" y1="662.50" x2="462.50" y2="664.90" stroke="#1a1a1a" stroke-width="1"/>
<text x="462.50" y="676.60" font-size="8.4" text-anchor="middle" fill="#1a1a1a" stroke="#1a1a1a" stroke-width="0.12">10</text>
<line x1="493.50" y1="662.50" x2="493.50" y2="664.90" stroke="#1a1a1a" stroke-width="1"/>
<text x="493.00" y="676.60" font-size="8.4" text-anchor="middle" fill="#1a1a1a" stroke="#1a1a1a" stroke-width="0.12">15</text>
<text x="456.60" y="690.30" font-size="10" text-anchor="middle" fill="#1a1a1a" stroke="#1a1a1a" stroke-width="0.3" textLength="12.80" lengthAdjust="spacingAndGlyphs">Day</text>
<text x="375.50" y="622.50" font-size="10" text-anchor="middle" fill="#1a1a1a" stroke="#1a1a1a" stroke-width="0.3" textLength="76.50" lengthAdjust="spacingAndGlyphs" transform="rotate(-90 375.50 622.50)">Tumor volume (mm<tspan font-size="7" dy="-3.6">3</tspan><tspan dy="3.6">)</tspan></text>
<text x="424.90" y="643.90" font-size="8.4" text-anchor="middle" fill="#1a1a1a" stroke="#1a1a1a" stroke-width="0.12" textLength="27.80" lengthAdjust="spacingAndGlyphs">IL-2 BID</text>
<line x1="418.50" y1="646.60" x2="418.50" y2="655.00" stroke="#000" stroke-width="1.0"/>
<path d="M418,658.3 L416,653.3 L420,653.3 Z" fill="#000"/>
<line x1="425.50" y1="646.60" x2="425.50" y2="655.00" stroke="#000" stroke-width="1.0"/>
<path d="M425,658.3 L423,653.3 L427,653.3 Z" fill="#000"/>
<line x1="432.50" y1="646.60" x2="432.50" y2="655.00" stroke="#000" stroke-width="1.0"/>
<path d="M432.3,658.3 L430.3,653.3 L434.3,653.3 Z" fill="#000"/>
<line x1="474.50" y1="644.30" x2="474.50" y2="647.30" stroke="#2e4c7e" stroke-width="1.0"/>
<line x1="473.30" y1="644.50" x2="476.10" y2="644.50" stroke="#2e4c7e" stroke-width="1.0"/>
<line x1="480.50" y1="635.10" x2="480.50" y2="641.50" stroke="#2e4c7e" stroke-width="1.0"/>
<line x1="479.40" y1="635.50" x2="482.20" y2="635.50" stroke="#2e4c7e" stroke-width="1.0"/>
<line x1="486.50" y1="637.40" x2="486.50" y2="641.50" stroke="#2e4c7e" stroke-width="1.0"/>
<line x1="485.50" y1="637.50" x2="488.30" y2="637.50" stroke="#2e4c7e" stroke-width="1.0"/>
<line x1="493.50" y1="624.70" x2="493.50" y2="630.50" stroke="#2e4c7e" stroke-width="1.0"/>
<line x1="491.60" y1="624.50" x2="494.40" y2="624.50" stroke="#2e4c7e" stroke-width="1.0"/>
<line x1="499.50" y1="613.20" x2="499.50" y2="621.90" stroke="#2e4c7e" stroke-width="1.0"/>
<line x1="497.70" y1="613.50" x2="500.50" y2="613.50" stroke="#2e4c7e" stroke-width="1.0"/>
<line x1="505.50" y1="598.20" x2="505.50" y2="611.50" stroke="#2e4c7e" stroke-width="1.0"/>
<line x1="503.80" y1="598.50" x2="506.60" y2="598.50" stroke="#2e4c7e" stroke-width="1.0"/>
<line x1="480.50" y1="654.90" x2="480.50" y2="656.50" stroke="#a3002a" stroke-width="1.0"/>
<line x1="479.40" y1="654.50" x2="482.20" y2="654.50" stroke="#a3002a" stroke-width="1.0"/>
<line x1="499.50" y1="649.60" x2="499.50" y2="651.90" stroke="#a3002a" stroke-width="1.0"/>
<line x1="497.70" y1="649.50" x2="500.50" y2="649.50" stroke="#a3002a" stroke-width="1.0"/>
<line x1="505.50" y1="645.00" x2="505.50" y2="648.90" stroke="#a3002a" stroke-width="1.0"/>
<line x1="503.80" y1="645.50" x2="506.60" y2="645.50" stroke="#a3002a" stroke-width="1.0"/>
<polyline points="401.50,662.3 462.50,660.5 468.60,660.5 474.70,658.8 480.80,656.5 486.90,656.5 493.00,655.4 499.10,651.9 505.20,648.9" fill="none" stroke="#a3002a" stroke-width="1.5"/>
<polyline points="401.50,662.3 462.50,656.5 468.60,652.6 474.70,647.3 480.80,641.5 486.90,641.5 493.00,630.5 499.10,621.9 505.20,611.5" fill="none" stroke="#2e4c7e" stroke-width="1.5"/>
<rect x="400.20" y="661.00" width="2.6" height="2.6" fill="#a3002a"/>
<rect x="461.20" y="659.20" width="2.6" height="2.6" fill="#a3002a"/>
<rect x="467.30" y="659.20" width="2.6" height="2.6" fill="#a3002a"/>
<rect x="473.40" y="657.50" width="2.6" height="2.6" fill="#a3002a"/>
<rect x="479.50" y="655.20" width="2.6" height="2.6" fill="#a3002a"/>
<rect x="485.60" y="655.20" width="2.6" height="2.6" fill="#a3002a"/>
<rect x="491.70" y="654.10" width="2.6" height="2.6" fill="#a3002a"/>
<rect x="497.80" y="650.60" width="2.6" height="2.6" fill="#a3002a"/>
<rect x="503.90" y="647.60" width="2.6" height="2.6" fill="#a3002a"/>
<circle cx="401.50" cy="662.30" r="1.4" fill="#2e4c7e"/>
<circle cx="462.50" cy="656.50" r="1.4" fill="#2e4c7e"/>
<circle cx="468.60" cy="652.60" r="1.4" fill="#2e4c7e"/>
<circle cx="474.70" cy="647.30" r="1.4" fill="#2e4c7e"/>
<circle cx="480.80" cy="641.50" r="1.4" fill="#2e4c7e"/>
<circle cx="486.90" cy="641.50" r="1.4" fill="#2e4c7e"/>
<circle cx="493.00" cy="630.50" r="1.4" fill="#2e4c7e"/>
<circle cx="499.10" cy="621.90" r="1.4" fill="#2e4c7e"/>
<circle cx="505.20" cy="611.50" r="1.4" fill="#2e4c7e"/>
<text x="493.95" y="623.50" font-size="7" text-anchor="middle" fill="#1a1a1a" stroke="#1a1a1a" stroke-width="0.4" letter-spacing="0.9">**</text>
<text x="496.85" y="612.90" font-size="7" text-anchor="middle" fill="#1a1a1a" stroke="#1a1a1a" stroke-width="0.4" letter-spacing="0.9">***</text>
<text x="506.45" y="597.40" font-size="7" text-anchor="middle" fill="#1a1a1a" stroke="#1a1a1a" stroke-width="0.4" letter-spacing="0.9">****</text>
<line x1="405.00" y1="587.30" x2="414.30" y2="587.30" stroke="#2e4c7e" stroke-width="1.5"/>
<circle cx="409.70" cy="587.30" r="1.4" fill="#2e4c7e"/>
<line x1="405.00" y1="599.50" x2="414.30" y2="599.50" stroke="#a3002a" stroke-width="1.5"/>
<rect x="408.40" y="598.20" width="2.6" height="2.6" fill="#a3002a"/>
<text x="416.60" y="589.80" font-size="8.4" fill="#1a1a1a" stroke="#1a1a1a" stroke-width="0.12" textLength="50.30" lengthAdjust="spacingAndGlyphs"><tspan font-style="italic">Crbn</tspan><tspan font-size="5.88" dy="-3.53">+/+</tspan><tspan dy="3.53"> T-cells</tspan></text>
<text x="416.60" y="602.30" font-size="8.4" fill="#1a1a1a" stroke="#1a1a1a" stroke-width="0.12" textLength="46.20" lengthAdjust="spacingAndGlyphs"><tspan font-style="italic">Crbn</tspan><tspan font-size="5.88" dy="-3.53">-/-</tspan><tspan dy="3.53"> T-cells</tspan></text>
<rect x="0.65" y="0.6" width="518.7" height="698.8" fill="none" stroke="#000" stroke-width="1.35"/>
</svg></div></body></html>
